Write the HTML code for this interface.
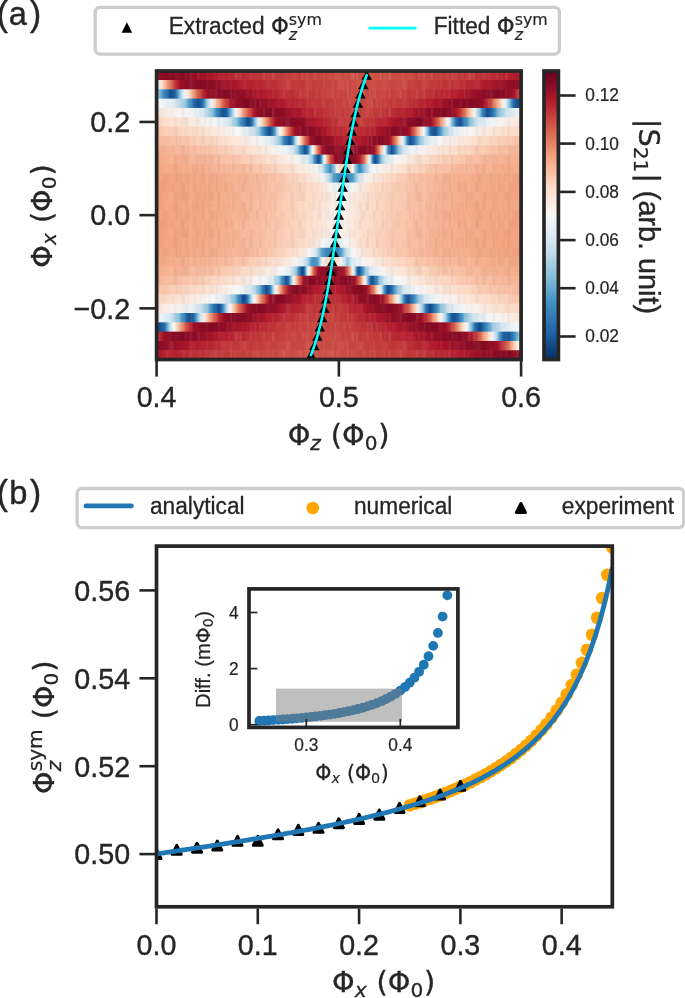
<!DOCTYPE html>
<html lang="en"><head><meta charset="utf-8"><title>Figure</title>
<style>
html,body{margin:0;padding:0;background:#fff;}
body{width:685px;height:998px;overflow:hidden;}
svg{display:block;font-family:"Liberation Sans", "DejaVu Sans", sans-serif;fill:#262626;}
text{white-space:pre;stroke:#262626;stroke-linejoin:round;}
</style></head><body>
<svg width="685" height="998" viewBox="0 0 685 998" role="img" aria-label="Figure with panels (a) and (b)">
<defs>
<clipPath id="ca"><rect x="156.6" y="71.0" width="364.5" height="288.5"/></clipPath>
<linearGradient id="r0" gradientUnits="userSpaceOnUse" x1="156.6" x2="521.1" y1="0" y2="0"><stop offset="0.0000" stop-color="#991027"/><stop offset="0.0165" stop-color="#8d0c25"/><stop offset="0.0384" stop-color="#840924"/><stop offset="0.0988" stop-color="#930e26"/><stop offset="0.1536" stop-color="#ae172a"/><stop offset="0.1893" stop-color="#b72230"/><stop offset="0.2963" stop-color="#c2383a"/><stop offset="0.3429" stop-color="#c43b3c"/><stop offset="0.3649" stop-color="#c53e3d"/><stop offset="0.4527" stop-color="#c94741"/><stop offset="0.5542" stop-color="#cf5246"/><stop offset="0.6200" stop-color="#cf5246"/><stop offset="0.6639" stop-color="#cc4c44"/><stop offset="0.7215" stop-color="#c94741"/><stop offset="0.7737" stop-color="#c6413e"/><stop offset="0.8669" stop-color="#c2383a"/><stop offset="0.9136" stop-color="#bd2d35"/><stop offset="0.9822" stop-color="#b41c2d"/><stop offset="0.9986" stop-color="#ae172a"/></linearGradient>
<linearGradient id="r1" gradientUnits="userSpaceOnUse" x1="156.6" x2="521.1" y1="0" y2="0"><stop offset="0.0000" stop-color="#d7e8f1"/><stop offset="0.0055" stop-color="#f5f6f7"/><stop offset="0.0137" stop-color="#fce2d2"/><stop offset="0.0165" stop-color="#fdd9c4"/><stop offset="0.0247" stop-color="#f6af8e"/><stop offset="0.0274" stop-color="#f3a481"/><stop offset="0.0384" stop-color="#da6853"/><stop offset="0.0439" stop-color="#ce4f45"/><stop offset="0.0604" stop-color="#b1182b"/><stop offset="0.0658" stop-color="#9c1127"/><stop offset="0.0823" stop-color="#900d26"/><stop offset="0.1097" stop-color="#840924"/><stop offset="0.1674" stop-color="#930e26"/><stop offset="0.2305" stop-color="#b3192c"/><stop offset="0.2579" stop-color="#b72230"/><stop offset="0.3484" stop-color="#c2383a"/><stop offset="0.4198" stop-color="#c53e3d"/><stop offset="0.4856" stop-color="#c94741"/><stop offset="0.5322" stop-color="#cc4c44"/><stop offset="0.5789" stop-color="#ce4f45"/><stop offset="0.6447" stop-color="#cb4942"/><stop offset="0.6667" stop-color="#c94741"/><stop offset="0.7106" stop-color="#c6413e"/><stop offset="0.7627" stop-color="#c43b3c"/><stop offset="0.8038" stop-color="#c13639"/><stop offset="0.8807" stop-color="#b72230"/><stop offset="0.9108" stop-color="#b1182b"/><stop offset="0.9438" stop-color="#9f1228"/><stop offset="0.9767" stop-color="#900d26"/><stop offset="0.9986" stop-color="#8a0b25"/></linearGradient>
<linearGradient id="r2" gradientUnits="userSpaceOnUse" x1="156.6" x2="521.1" y1="0" y2="0"><stop offset="0.0000" stop-color="#a2cde3"/><stop offset="0.0055" stop-color="#93c6de"/><stop offset="0.0165" stop-color="#4695c4"/><stop offset="0.0274" stop-color="#246aae"/><stop offset="0.0302" stop-color="#1f63a8"/><stop offset="0.0384" stop-color="#134c87"/><stop offset="0.0494" stop-color="#1f63a8"/><stop offset="0.0549" stop-color="#3783bb"/><stop offset="0.0576" stop-color="#4997c5"/><stop offset="0.0631" stop-color="#87beda"/><stop offset="0.0713" stop-color="#cfe4ef"/><stop offset="0.0796" stop-color="#f7f5f4"/><stop offset="0.0878" stop-color="#fcdfcf"/><stop offset="0.0933" stop-color="#f9c6ac"/><stop offset="0.0960" stop-color="#f7b799"/><stop offset="0.1043" stop-color="#ec9374"/><stop offset="0.1152" stop-color="#d35a4a"/><stop offset="0.1289" stop-color="#ba2832"/><stop offset="0.1317" stop-color="#b41c2d"/><stop offset="0.1344" stop-color="#ae172a"/><stop offset="0.1399" stop-color="#991027"/><stop offset="0.1783" stop-color="#840924"/><stop offset="0.2332" stop-color="#930e26"/><stop offset="0.2771" stop-color="#ab162a"/><stop offset="0.2990" stop-color="#b41c2d"/><stop offset="0.3265" stop-color="#b82531"/><stop offset="0.4005" stop-color="#c2383a"/><stop offset="0.5350" stop-color="#cb4942"/><stop offset="0.5679" stop-color="#cc4c44"/><stop offset="0.5898" stop-color="#cb4942"/><stop offset="0.6392" stop-color="#c84440"/><stop offset="0.6776" stop-color="#c53e3d"/><stop offset="0.7353" stop-color="#c13639"/><stop offset="0.8148" stop-color="#b61f2e"/><stop offset="0.8313" stop-color="#b1182b"/><stop offset="0.8861" stop-color="#930e26"/><stop offset="0.9438" stop-color="#840924"/><stop offset="0.9794" stop-color="#9c1127"/><stop offset="0.9849" stop-color="#b1182b"/><stop offset="0.9986" stop-color="#cc4c44"/></linearGradient>
<linearGradient id="r3" gradientUnits="userSpaceOnUse" x1="156.6" x2="521.1" y1="0" y2="0"><stop offset="0.0000" stop-color="#f7f6f6"/><stop offset="0.0192" stop-color="#f0f4f6"/><stop offset="0.0521" stop-color="#d7e8f1"/><stop offset="0.0631" stop-color="#c0dceb"/><stop offset="0.0796" stop-color="#93c6de"/><stop offset="0.0850" stop-color="#71b0d3"/><stop offset="0.0905" stop-color="#4997c5"/><stop offset="0.0988" stop-color="#2e77b5"/><stop offset="0.1043" stop-color="#2065ab"/><stop offset="0.1125" stop-color="#134c87"/><stop offset="0.1235" stop-color="#1f63a8"/><stop offset="0.1289" stop-color="#3885bc"/><stop offset="0.1317" stop-color="#4c99c6"/><stop offset="0.1372" stop-color="#90c4dd"/><stop offset="0.1427" stop-color="#c5dfec"/><stop offset="0.1481" stop-color="#e7f0f4"/><stop offset="0.1509" stop-color="#f6f7f7"/><stop offset="0.1591" stop-color="#fcdecd"/><stop offset="0.1619" stop-color="#fcd3bc"/><stop offset="0.1646" stop-color="#f9c2a7"/><stop offset="0.1728" stop-color="#ef9979"/><stop offset="0.1838" stop-color="#d55d4c"/><stop offset="0.2003" stop-color="#b41c2d"/><stop offset="0.2058" stop-color="#9f1228"/><stop offset="0.2112" stop-color="#960f27"/><stop offset="0.2277" stop-color="#8d0c25"/><stop offset="0.2442" stop-color="#840924"/><stop offset="0.2963" stop-color="#930e26"/><stop offset="0.3484" stop-color="#b3192c"/><stop offset="0.3704" stop-color="#b72230"/><stop offset="0.4390" stop-color="#c2383a"/><stop offset="0.5405" stop-color="#c94741"/><stop offset="0.5789" stop-color="#c94741"/><stop offset="0.6475" stop-color="#c43b3c"/><stop offset="0.6776" stop-color="#c13639"/><stop offset="0.7270" stop-color="#b82531"/><stop offset="0.7517" stop-color="#b41c2d"/><stop offset="0.7654" stop-color="#ae172a"/><stop offset="0.8176" stop-color="#900d26"/><stop offset="0.8615" stop-color="#840924"/><stop offset="0.8971" stop-color="#991027"/><stop offset="0.9026" stop-color="#b1182b"/><stop offset="0.9081" stop-color="#bb2a34"/><stop offset="0.9218" stop-color="#d7634f"/><stop offset="0.9328" stop-color="#f2a17f"/><stop offset="0.9383" stop-color="#f7b99c"/><stop offset="0.9438" stop-color="#fdd9c4"/><stop offset="0.9520" stop-color="#f8f3f0"/><stop offset="0.9547" stop-color="#f0f4f6"/><stop offset="0.9602" stop-color="#d1e5f0"/><stop offset="0.9657" stop-color="#a0cce2"/><stop offset="0.9739" stop-color="#408fc1"/><stop offset="0.9794" stop-color="#2369ad"/><stop offset="0.9877" stop-color="#175290"/><stop offset="0.9904" stop-color="#134c87"/><stop offset="0.9931" stop-color="#15508d"/><stop offset="0.9986" stop-color="#1e61a5"/></linearGradient>
<linearGradient id="r4" gradientUnits="userSpaceOnUse" x1="156.6" x2="521.1" y1="0" y2="0"><stop offset="0.0000" stop-color="#fbe5d8"/><stop offset="0.0823" stop-color="#f6f7f7"/><stop offset="0.1097" stop-color="#e6eff4"/><stop offset="0.1262" stop-color="#d8e9f1"/><stop offset="0.1509" stop-color="#96c7df"/><stop offset="0.1536" stop-color="#87beda"/><stop offset="0.1619" stop-color="#4997c5"/><stop offset="0.1674" stop-color="#337eb8"/><stop offset="0.1728" stop-color="#246aae"/><stop offset="0.1783" stop-color="#1a5899"/><stop offset="0.1811" stop-color="#144e8a"/><stop offset="0.1838" stop-color="#144e8a"/><stop offset="0.1920" stop-color="#1f63a8"/><stop offset="0.1948" stop-color="#2870b1"/><stop offset="0.2003" stop-color="#4c99c6"/><stop offset="0.2058" stop-color="#93c6de"/><stop offset="0.2112" stop-color="#c7e0ed"/><stop offset="0.2140" stop-color="#dbeaf2"/><stop offset="0.2195" stop-color="#f7f5f4"/><stop offset="0.2277" stop-color="#fddbc7"/><stop offset="0.2332" stop-color="#f8bb9e"/><stop offset="0.2387" stop-color="#f2a17f"/><stop offset="0.2497" stop-color="#d6604d"/><stop offset="0.2661" stop-color="#b3192c"/><stop offset="0.2716" stop-color="#991027"/><stop offset="0.3045" stop-color="#840924"/><stop offset="0.3512" stop-color="#930e26"/><stop offset="0.3978" stop-color="#b3192c"/><stop offset="0.4060" stop-color="#b61f2e"/><stop offset="0.4444" stop-color="#bd2d35"/><stop offset="0.4746" stop-color="#c2383a"/><stop offset="0.5350" stop-color="#c6413e"/><stop offset="0.5734" stop-color="#c6413e"/><stop offset="0.6310" stop-color="#c13639"/><stop offset="0.6694" stop-color="#b82531"/><stop offset="0.6914" stop-color="#b41c2d"/><stop offset="0.7270" stop-color="#9c1127"/><stop offset="0.7490" stop-color="#900d26"/><stop offset="0.7901" stop-color="#840924"/><stop offset="0.8203" stop-color="#991027"/><stop offset="0.8258" stop-color="#b3192c"/><stop offset="0.8422" stop-color="#d6604d"/><stop offset="0.8532" stop-color="#f2a17f"/><stop offset="0.8587" stop-color="#f8bb9e"/><stop offset="0.8642" stop-color="#fddbc7"/><stop offset="0.8724" stop-color="#f7f5f4"/><stop offset="0.8779" stop-color="#dbeaf2"/><stop offset="0.8834" stop-color="#aed3e6"/><stop offset="0.8861" stop-color="#93c6de"/><stop offset="0.8916" stop-color="#4c99c6"/><stop offset="0.8971" stop-color="#2870b1"/><stop offset="0.9026" stop-color="#1b5a9c"/><stop offset="0.9081" stop-color="#144e8a"/><stop offset="0.9108" stop-color="#144e8a"/><stop offset="0.9163" stop-color="#1e61a5"/><stop offset="0.9246" stop-color="#337eb8"/><stop offset="0.9300" stop-color="#4997c5"/><stop offset="0.9383" stop-color="#87beda"/><stop offset="0.9410" stop-color="#96c7df"/><stop offset="0.9657" stop-color="#d8e9f1"/><stop offset="0.9986" stop-color="#f2f5f6"/></linearGradient>
<linearGradient id="r5" gradientUnits="userSpaceOnUse" x1="156.6" x2="521.1" y1="0" y2="0"><stop offset="0.0000" stop-color="#fcd7c2"/><stop offset="0.0549" stop-color="#fce2d2"/><stop offset="0.1070" stop-color="#f9ebe3"/><stop offset="0.1536" stop-color="#f6f7f7"/><stop offset="0.1811" stop-color="#e4eef4"/><stop offset="0.1975" stop-color="#d4e6f1"/><stop offset="0.2085" stop-color="#b6d7e8"/><stop offset="0.2195" stop-color="#96c7df"/><stop offset="0.2250" stop-color="#6eaed2"/><stop offset="0.2305" stop-color="#4393c3"/><stop offset="0.2387" stop-color="#276eb0"/><stop offset="0.2414" stop-color="#2267ac"/><stop offset="0.2497" stop-color="#124984"/><stop offset="0.2579" stop-color="#1e61a5"/><stop offset="0.2606" stop-color="#2a71b2"/><stop offset="0.2634" stop-color="#3b88be"/><stop offset="0.2661" stop-color="#59a1ca"/><stop offset="0.2689" stop-color="#81bad8"/><stop offset="0.2743" stop-color="#c0dceb"/><stop offset="0.2771" stop-color="#d8e9f1"/><stop offset="0.2798" stop-color="#eaf1f5"/><stop offset="0.2826" stop-color="#f8f4f2"/><stop offset="0.2908" stop-color="#fcd5bf"/><stop offset="0.2936" stop-color="#f9c2a7"/><stop offset="0.2990" stop-color="#f3a481"/><stop offset="0.3073" stop-color="#db6b55"/><stop offset="0.3100" stop-color="#d35a4a"/><stop offset="0.3237" stop-color="#b3192c"/><stop offset="0.3292" stop-color="#991027"/><stop offset="0.3594" stop-color="#840924"/><stop offset="0.3786" stop-color="#8a0b25"/><stop offset="0.3978" stop-color="#930e26"/><stop offset="0.4307" stop-color="#ae172a"/><stop offset="0.4444" stop-color="#b61f2e"/><stop offset="0.5021" stop-color="#c2383a"/><stop offset="0.5652" stop-color="#c43b3c"/><stop offset="0.5898" stop-color="#c13639"/><stop offset="0.6228" stop-color="#b82531"/><stop offset="0.6475" stop-color="#b1182b"/><stop offset="0.6694" stop-color="#9c1127"/><stop offset="0.6886" stop-color="#900d26"/><stop offset="0.7215" stop-color="#840924"/><stop offset="0.7462" stop-color="#960f27"/><stop offset="0.7517" stop-color="#991027"/><stop offset="0.7572" stop-color="#b41c2d"/><stop offset="0.7709" stop-color="#d55d4c"/><stop offset="0.7819" stop-color="#f3a481"/><stop offset="0.7901" stop-color="#fcd5bf"/><stop offset="0.7984" stop-color="#f7f5f4"/><stop offset="0.8038" stop-color="#d7e8f1"/><stop offset="0.8093" stop-color="#a0cce2"/><stop offset="0.8121" stop-color="#7eb8d7"/><stop offset="0.8148" stop-color="#569fc9"/><stop offset="0.8176" stop-color="#3a87bd"/><stop offset="0.8203" stop-color="#2870b1"/><stop offset="0.8230" stop-color="#1e61a5"/><stop offset="0.8313" stop-color="#124984"/><stop offset="0.8395" stop-color="#2267ac"/><stop offset="0.8505" stop-color="#4393c3"/><stop offset="0.8587" stop-color="#84bcd9"/><stop offset="0.8615" stop-color="#96c7df"/><stop offset="0.8807" stop-color="#cfe4ef"/><stop offset="0.8889" stop-color="#dbeaf2"/><stop offset="0.9218" stop-color="#f5f6f7"/><stop offset="0.9410" stop-color="#f8f4f2"/><stop offset="0.9986" stop-color="#fbe6da"/></linearGradient>
<linearGradient id="r6" gradientUnits="userSpaceOnUse" x1="156.6" x2="521.1" y1="0" y2="0"><stop offset="0.0000" stop-color="#f9c6ac"/><stop offset="0.1235" stop-color="#fce0d0"/><stop offset="0.1728" stop-color="#faeae1"/><stop offset="0.2222" stop-color="#f6f7f7"/><stop offset="0.2414" stop-color="#eaf1f5"/><stop offset="0.2606" stop-color="#d8e9f1"/><stop offset="0.2716" stop-color="#b8d8e9"/><stop offset="0.2826" stop-color="#93c6de"/><stop offset="0.2908" stop-color="#4c99c6"/><stop offset="0.2963" stop-color="#337eb8"/><stop offset="0.2990" stop-color="#2870b1"/><stop offset="0.3018" stop-color="#2267ac"/><stop offset="0.3073" stop-color="#15508d"/><stop offset="0.3100" stop-color="#144e8a"/><stop offset="0.3182" stop-color="#2369ad"/><stop offset="0.3210" stop-color="#3783bb"/><stop offset="0.3237" stop-color="#529dc8"/><stop offset="0.3265" stop-color="#7eb8d7"/><stop offset="0.3292" stop-color="#a5cee3"/><stop offset="0.3320" stop-color="#c5dfec"/><stop offset="0.3374" stop-color="#f0f4f6"/><stop offset="0.3402" stop-color="#f9f0eb"/><stop offset="0.3457" stop-color="#fddbc7"/><stop offset="0.3512" stop-color="#f7b596"/><stop offset="0.3539" stop-color="#f4a683"/><stop offset="0.3621" stop-color="#da6853"/><stop offset="0.3649" stop-color="#d25849"/><stop offset="0.3676" stop-color="#cc4c44"/><stop offset="0.3759" stop-color="#b41c2d"/><stop offset="0.3813" stop-color="#991027"/><stop offset="0.4060" stop-color="#840924"/><stop offset="0.4417" stop-color="#960f27"/><stop offset="0.4719" stop-color="#b41c2d"/><stop offset="0.4938" stop-color="#ba2832"/><stop offset="0.5185" stop-color="#be3036"/><stop offset="0.5460" stop-color="#bf3338"/><stop offset="0.5789" stop-color="#ba2832"/><stop offset="0.6036" stop-color="#b1182b"/><stop offset="0.6255" stop-color="#991027"/><stop offset="0.6557" stop-color="#870a24"/><stop offset="0.6667" stop-color="#840924"/><stop offset="0.6886" stop-color="#991027"/><stop offset="0.6914" stop-color="#a21328"/><stop offset="0.6941" stop-color="#b1182b"/><stop offset="0.7078" stop-color="#d86551"/><stop offset="0.7160" stop-color="#f2a17f"/><stop offset="0.7188" stop-color="#f6b191"/><stop offset="0.7243" stop-color="#fcd7c2"/><stop offset="0.7298" stop-color="#f9eee7"/><stop offset="0.7325" stop-color="#f5f6f7"/><stop offset="0.7380" stop-color="#cae1ee"/><stop offset="0.7435" stop-color="#87beda"/><stop offset="0.7462" stop-color="#5ca3cb"/><stop offset="0.7490" stop-color="#3b88be"/><stop offset="0.7517" stop-color="#2870b1"/><stop offset="0.7545" stop-color="#1e61a5"/><stop offset="0.7599" stop-color="#15508d"/><stop offset="0.7627" stop-color="#144e8a"/><stop offset="0.7682" stop-color="#1f63a8"/><stop offset="0.7764" stop-color="#3b88be"/><stop offset="0.7791" stop-color="#4997c5"/><stop offset="0.7874" stop-color="#90c4dd"/><stop offset="0.8066" stop-color="#d1e5f0"/><stop offset="0.8176" stop-color="#e0ecf3"/><stop offset="0.8477" stop-color="#f6f7f7"/><stop offset="0.9218" stop-color="#fbe5d8"/><stop offset="0.9986" stop-color="#fcd7c2"/></linearGradient>
<linearGradient id="r7" gradientUnits="userSpaceOnUse" x1="156.6" x2="521.1" y1="0" y2="0"><stop offset="0.0000" stop-color="#f7b99c"/><stop offset="0.0905" stop-color="#fac8af"/><stop offset="0.1481" stop-color="#fcd7c2"/><stop offset="0.2414" stop-color="#faeae1"/><stop offset="0.2853" stop-color="#f6f7f7"/><stop offset="0.3100" stop-color="#e1edf3"/><stop offset="0.3182" stop-color="#dae9f2"/><stop offset="0.3265" stop-color="#c2ddec"/><stop offset="0.3374" stop-color="#9bc9e0"/><stop offset="0.3402" stop-color="#8dc2dc"/><stop offset="0.3457" stop-color="#569fc9"/><stop offset="0.3484" stop-color="#408fc1"/><stop offset="0.3539" stop-color="#2a71b2"/><stop offset="0.3567" stop-color="#2267ac"/><stop offset="0.3621" stop-color="#144e8a"/><stop offset="0.3649" stop-color="#15508d"/><stop offset="0.3704" stop-color="#2065ab"/><stop offset="0.3731" stop-color="#3681ba"/><stop offset="0.3759" stop-color="#59a1ca"/><stop offset="0.3786" stop-color="#8ac0db"/><stop offset="0.3813" stop-color="#b3d6e8"/><stop offset="0.3841" stop-color="#d7e8f1"/><stop offset="0.3868" stop-color="#edf2f5"/><stop offset="0.3896" stop-color="#f9f0eb"/><stop offset="0.3951" stop-color="#fcd3bc"/><stop offset="0.3978" stop-color="#f7b99c"/><stop offset="0.4005" stop-color="#f5a886"/><stop offset="0.4088" stop-color="#d6604d"/><stop offset="0.4198" stop-color="#b1182b"/><stop offset="0.4225" stop-color="#9c1127"/><stop offset="0.4390" stop-color="#870a24"/><stop offset="0.4444" stop-color="#840924"/><stop offset="0.4719" stop-color="#960f27"/><stop offset="0.4938" stop-color="#ae172a"/><stop offset="0.5130" stop-color="#b61f2e"/><stop offset="0.5405" stop-color="#b72230"/><stop offset="0.5569" stop-color="#b41c2d"/><stop offset="0.5871" stop-color="#991027"/><stop offset="0.6036" stop-color="#8a0b25"/><stop offset="0.6200" stop-color="#840924"/><stop offset="0.6365" stop-color="#991027"/><stop offset="0.6392" stop-color="#9f1228"/><stop offset="0.6420" stop-color="#b3192c"/><stop offset="0.6529" stop-color="#d86551"/><stop offset="0.6612" stop-color="#f5ac8b"/><stop offset="0.6639" stop-color="#f8bfa4"/><stop offset="0.6667" stop-color="#fcd7c2"/><stop offset="0.6722" stop-color="#f8f2ef"/><stop offset="0.6749" stop-color="#e9f0f4"/><stop offset="0.6776" stop-color="#d1e5f0"/><stop offset="0.6804" stop-color="#acd2e5"/><stop offset="0.6831" stop-color="#81bad8"/><stop offset="0.6859" stop-color="#4c99c6"/><stop offset="0.6886" stop-color="#307ab6"/><stop offset="0.6914" stop-color="#1f63a8"/><stop offset="0.6968" stop-color="#144e8a"/><stop offset="0.6996" stop-color="#175290"/><stop offset="0.7051" stop-color="#2369ad"/><stop offset="0.7133" stop-color="#4393c3"/><stop offset="0.7215" stop-color="#90c4dd"/><stop offset="0.7380" stop-color="#cfe4ef"/><stop offset="0.7462" stop-color="#ddebf2"/><stop offset="0.7737" stop-color="#f5f6f7"/><stop offset="0.7874" stop-color="#f8f4f2"/><stop offset="0.8422" stop-color="#fbe5d8"/><stop offset="0.9081" stop-color="#fdd9c4"/><stop offset="0.9849" stop-color="#f9c6ac"/><stop offset="0.9986" stop-color="#f9c4a9"/></linearGradient>
<linearGradient id="r8" gradientUnits="userSpaceOnUse" x1="156.6" x2="521.1" y1="0" y2="0"><stop offset="0.0000" stop-color="#f6b191"/><stop offset="0.0850" stop-color="#f7b99c"/><stop offset="0.1619" stop-color="#fac8af"/><stop offset="0.2524" stop-color="#fcdfcf"/><stop offset="0.2963" stop-color="#fae9df"/><stop offset="0.3402" stop-color="#f6f7f7"/><stop offset="0.3594" stop-color="#e7f0f4"/><stop offset="0.3731" stop-color="#d4e6f1"/><stop offset="0.3868" stop-color="#98c8e0"/><stop offset="0.3896" stop-color="#84bcd9"/><stop offset="0.3951" stop-color="#4695c4"/><stop offset="0.4005" stop-color="#2870b1"/><stop offset="0.4033" stop-color="#1f63a8"/><stop offset="0.4060" stop-color="#195696"/><stop offset="0.4088" stop-color="#144e8a"/><stop offset="0.4143" stop-color="#2267ac"/><stop offset="0.4170" stop-color="#3e8cbf"/><stop offset="0.4198" stop-color="#78b4d5"/><stop offset="0.4225" stop-color="#aed3e6"/><stop offset="0.4252" stop-color="#d8e9f1"/><stop offset="0.4280" stop-color="#f6f7f7"/><stop offset="0.4335" stop-color="#fcd7c2"/><stop offset="0.4362" stop-color="#f7b99c"/><stop offset="0.4390" stop-color="#f2a17f"/><stop offset="0.4444" stop-color="#d86551"/><stop offset="0.4527" stop-color="#b72230"/><stop offset="0.4554" stop-color="#a51429"/><stop offset="0.4582" stop-color="#991027"/><stop offset="0.4746" stop-color="#840924"/><stop offset="0.5021" stop-color="#930e26"/><stop offset="0.5185" stop-color="#991027"/><stop offset="0.5295" stop-color="#9c1127"/><stop offset="0.5789" stop-color="#840924"/><stop offset="0.5953" stop-color="#991027"/><stop offset="0.5981" stop-color="#ae172a"/><stop offset="0.6008" stop-color="#bb2a34"/><stop offset="0.6036" stop-color="#c84440"/><stop offset="0.6063" stop-color="#d25849"/><stop offset="0.6118" stop-color="#eb9172"/><stop offset="0.6145" stop-color="#f5ac8b"/><stop offset="0.6200" stop-color="#fcdfcf"/><stop offset="0.6228" stop-color="#f9efe9"/><stop offset="0.6255" stop-color="#eaf1f5"/><stop offset="0.6283" stop-color="#cae1ee"/><stop offset="0.6310" stop-color="#9bc9e0"/><stop offset="0.6337" stop-color="#5ca3cb"/><stop offset="0.6365" stop-color="#327cb7"/><stop offset="0.6392" stop-color="#1e61a5"/><stop offset="0.6420" stop-color="#185493"/><stop offset="0.6447" stop-color="#144e8a"/><stop offset="0.6502" stop-color="#2369ad"/><stop offset="0.6529" stop-color="#2e77b5"/><stop offset="0.6557" stop-color="#3c8abe"/><stop offset="0.6584" stop-color="#529dc8"/><stop offset="0.6639" stop-color="#90c4dd"/><stop offset="0.6776" stop-color="#cfe4ef"/><stop offset="0.6831" stop-color="#dbeaf2"/><stop offset="0.7106" stop-color="#f6f7f7"/><stop offset="0.7764" stop-color="#fbe4d6"/><stop offset="0.8395" stop-color="#fcd7c2"/><stop offset="0.9136" stop-color="#f9c4a9"/><stop offset="0.9877" stop-color="#f7b799"/><stop offset="0.9986" stop-color="#f7b596"/></linearGradient>
<linearGradient id="r9" gradientUnits="userSpaceOnUse" x1="156.6" x2="521.1" y1="0" y2="0"><stop offset="0.0000" stop-color="#f5aa89"/><stop offset="0.1070" stop-color="#f6b394"/><stop offset="0.1564" stop-color="#f7b99c"/><stop offset="0.2305" stop-color="#fac8af"/><stop offset="0.3100" stop-color="#fcdfcf"/><stop offset="0.3567" stop-color="#faeae1"/><stop offset="0.3896" stop-color="#f6f7f7"/><stop offset="0.4060" stop-color="#e4eef4"/><stop offset="0.4143" stop-color="#d7e8f1"/><stop offset="0.4198" stop-color="#bddbea"/><stop offset="0.4280" stop-color="#90c4dd"/><stop offset="0.4335" stop-color="#4393c3"/><stop offset="0.4390" stop-color="#2369ad"/><stop offset="0.4417" stop-color="#1a5899"/><stop offset="0.4444" stop-color="#144e8a"/><stop offset="0.4472" stop-color="#1c5c9f"/><stop offset="0.4499" stop-color="#2c75b4"/><stop offset="0.4527" stop-color="#59a1ca"/><stop offset="0.4554" stop-color="#a0cce2"/><stop offset="0.4582" stop-color="#d4e6f1"/><stop offset="0.4609" stop-color="#f6f7f7"/><stop offset="0.4636" stop-color="#fbe6da"/><stop offset="0.4664" stop-color="#fbccb4"/><stop offset="0.4691" stop-color="#f5ac8b"/><stop offset="0.4746" stop-color="#db6b55"/><stop offset="0.4774" stop-color="#ce4f45"/><stop offset="0.4856" stop-color="#ae172a"/><stop offset="0.4883" stop-color="#991027"/><stop offset="0.5048" stop-color="#8a0b25"/><stop offset="0.5267" stop-color="#840924"/><stop offset="0.5432" stop-color="#8d0c25"/><stop offset="0.5542" stop-color="#991027"/><stop offset="0.5569" stop-color="#a21328"/><stop offset="0.5597" stop-color="#b41c2d"/><stop offset="0.5679" stop-color="#d35a4a"/><stop offset="0.5734" stop-color="#f09c7b"/><stop offset="0.5761" stop-color="#f7b99c"/><stop offset="0.5789" stop-color="#fddcc9"/><stop offset="0.5816" stop-color="#f9eee7"/><stop offset="0.5844" stop-color="#e7f0f4"/><stop offset="0.5871" stop-color="#bddbea"/><stop offset="0.5898" stop-color="#84bcd9"/><stop offset="0.5926" stop-color="#3e8cbf"/><stop offset="0.5953" stop-color="#1f63a8"/><stop offset="0.5981" stop-color="#195696"/><stop offset="0.6008" stop-color="#144e8a"/><stop offset="0.6036" stop-color="#1d5fa2"/><stop offset="0.6063" stop-color="#2870b1"/><stop offset="0.6091" stop-color="#3a87bd"/><stop offset="0.6118" stop-color="#529dc8"/><stop offset="0.6145" stop-color="#7bb6d6"/><stop offset="0.6173" stop-color="#98c8e0"/><stop offset="0.6283" stop-color="#d2e6f0"/><stop offset="0.6365" stop-color="#e1edf3"/><stop offset="0.6529" stop-color="#f5f6f7"/><stop offset="0.6749" stop-color="#f9f0eb"/><stop offset="0.7051" stop-color="#fbe5d8"/><stop offset="0.7819" stop-color="#fcd3bc"/><stop offset="0.8368" stop-color="#f9c4a9"/><stop offset="0.9081" stop-color="#f7b799"/><stop offset="0.9959" stop-color="#f6af8e"/><stop offset="0.9986" stop-color="#f6af8e"/></linearGradient>
<linearGradient id="r10" gradientUnits="userSpaceOnUse" x1="156.6" x2="521.1" y1="0" y2="0"><stop offset="0.0000" stop-color="#f4a683"/><stop offset="0.1097" stop-color="#f5ac8b"/><stop offset="0.2250" stop-color="#f7b99c"/><stop offset="0.2826" stop-color="#f9c6ac"/><stop offset="0.3813" stop-color="#fbe4d6"/><stop offset="0.4225" stop-color="#f8f1ed"/><stop offset="0.4362" stop-color="#f8f4f2"/><stop offset="0.4390" stop-color="#f6f7f7"/><stop offset="0.4527" stop-color="#d7e8f1"/><stop offset="0.4636" stop-color="#87beda"/><stop offset="0.4664" stop-color="#6eaed2"/><stop offset="0.4746" stop-color="#4291c2"/><stop offset="0.4774" stop-color="#3e8cbf"/><stop offset="0.4829" stop-color="#65a9cf"/><stop offset="0.4883" stop-color="#98c8e0"/><stop offset="0.4911" stop-color="#c5dfec"/><stop offset="0.4938" stop-color="#e4eef4"/><stop offset="0.4966" stop-color="#f8f1ed"/><stop offset="0.4993" stop-color="#fce0d0"/><stop offset="0.5130" stop-color="#fbceb7"/><stop offset="0.5158" stop-color="#fac8af"/><stop offset="0.5185" stop-color="#f9c6ac"/><stop offset="0.5350" stop-color="#fbe4d6"/><stop offset="0.5377" stop-color="#f6f7f7"/><stop offset="0.5405" stop-color="#dbeaf2"/><stop offset="0.5460" stop-color="#8dc2dc"/><stop offset="0.5542" stop-color="#4695c4"/><stop offset="0.5569" stop-color="#3c8abe"/><stop offset="0.5597" stop-color="#4695c4"/><stop offset="0.5679" stop-color="#75b2d4"/><stop offset="0.5706" stop-color="#90c4dd"/><stop offset="0.5789" stop-color="#cce2ef"/><stop offset="0.5816" stop-color="#dae9f2"/><stop offset="0.5953" stop-color="#f5f6f7"/><stop offset="0.6091" stop-color="#f8f1ed"/><stop offset="0.6392" stop-color="#fae9df"/><stop offset="0.6667" stop-color="#fce0d0"/><stop offset="0.7627" stop-color="#f9c4a9"/><stop offset="0.8340" stop-color="#f7b799"/><stop offset="0.9136" stop-color="#f6af8e"/><stop offset="0.9986" stop-color="#f5a886"/></linearGradient>
<linearGradient id="r11" gradientUnits="userSpaceOnUse" x1="156.6" x2="521.1" y1="0" y2="0"><stop offset="0.0000" stop-color="#f2a17f"/><stop offset="0.0357" stop-color="#f2a17f"/><stop offset="0.1180" stop-color="#f5a886"/><stop offset="0.2277" stop-color="#f6b191"/><stop offset="0.3045" stop-color="#f8bda1"/><stop offset="0.3512" stop-color="#facab1"/><stop offset="0.4252" stop-color="#fbe5d8"/><stop offset="0.4390" stop-color="#f9ebe3"/><stop offset="0.4527" stop-color="#f7f6f6"/><stop offset="0.4691" stop-color="#d2e6f0"/><stop offset="0.4719" stop-color="#cae1ee"/><stop offset="0.4801" stop-color="#90c4dd"/><stop offset="0.4856" stop-color="#5fa5cd"/><stop offset="0.4883" stop-color="#4c99c6"/><stop offset="0.4966" stop-color="#3e8cbf"/><stop offset="0.5021" stop-color="#3885bc"/><stop offset="0.5267" stop-color="#3885bc"/><stop offset="0.5350" stop-color="#4393c3"/><stop offset="0.5377" stop-color="#4c99c6"/><stop offset="0.5405" stop-color="#5fa5cd"/><stop offset="0.5460" stop-color="#93c6de"/><stop offset="0.5514" stop-color="#bbdaea"/><stop offset="0.5569" stop-color="#d4e6f1"/><stop offset="0.5706" stop-color="#f5f6f7"/><stop offset="0.6008" stop-color="#fbe6da"/><stop offset="0.6749" stop-color="#fbccb4"/><stop offset="0.6996" stop-color="#f9c4a9"/><stop offset="0.7627" stop-color="#f7b799"/><stop offset="0.8340" stop-color="#f6af8e"/><stop offset="0.9904" stop-color="#f3a481"/><stop offset="0.9986" stop-color="#f2a17f"/></linearGradient>
<linearGradient id="r12" gradientUnits="userSpaceOnUse" x1="156.6" x2="521.1" y1="0" y2="0"><stop offset="0.0000" stop-color="#f2a17f"/><stop offset="0.0357" stop-color="#f2a17f"/><stop offset="0.0713" stop-color="#f3a481"/><stop offset="0.1893" stop-color="#f5aa89"/><stop offset="0.2689" stop-color="#f7b799"/><stop offset="0.3429" stop-color="#f9c6ac"/><stop offset="0.4417" stop-color="#fcdfcf"/><stop offset="0.4664" stop-color="#f9ede5"/><stop offset="0.4801" stop-color="#f7f6f6"/><stop offset="0.4966" stop-color="#e3edf3"/><stop offset="0.5130" stop-color="#ddebf2"/><stop offset="0.5295" stop-color="#e7f0f4"/><stop offset="0.5405" stop-color="#f6f7f7"/><stop offset="0.5679" stop-color="#fbe5d8"/><stop offset="0.5898" stop-color="#fddcc9"/><stop offset="0.6091" stop-color="#fdd9c4"/><stop offset="0.6557" stop-color="#fbccb4"/><stop offset="0.7215" stop-color="#f8bda1"/><stop offset="0.7956" stop-color="#f6b191"/><stop offset="0.8450" stop-color="#f5aa89"/><stop offset="0.9822" stop-color="#f3a481"/><stop offset="0.9986" stop-color="#f2a17f"/></linearGradient>
<linearGradient id="r13" gradientUnits="userSpaceOnUse" x1="156.6" x2="521.1" y1="0" y2="0"><stop offset="0.0000" stop-color="#f2a17f"/><stop offset="0.1180" stop-color="#f4a683"/><stop offset="0.1536" stop-color="#f5a886"/><stop offset="0.2003" stop-color="#f5ac8b"/><stop offset="0.3210" stop-color="#f9c2a7"/><stop offset="0.3896" stop-color="#fcd3bc"/><stop offset="0.4307" stop-color="#fdddcb"/><stop offset="0.4691" stop-color="#fae7dc"/><stop offset="0.5075" stop-color="#f7f6f6"/><stop offset="0.5542" stop-color="#fbe4d6"/><stop offset="0.6612" stop-color="#facab1"/><stop offset="0.7078" stop-color="#f8bfa4"/><stop offset="0.7929" stop-color="#f6b191"/><stop offset="0.8422" stop-color="#f5aa89"/><stop offset="0.9794" stop-color="#f3a481"/><stop offset="0.9986" stop-color="#f2a17f"/></linearGradient>
<linearGradient id="r14" gradientUnits="userSpaceOnUse" x1="156.6" x2="521.1" y1="0" y2="0"><stop offset="0.0000" stop-color="#f2a17f"/><stop offset="0.1152" stop-color="#f4a683"/><stop offset="0.1509" stop-color="#f5a886"/><stop offset="0.1975" stop-color="#f5ac8b"/><stop offset="0.3182" stop-color="#f9c2a7"/><stop offset="0.3868" stop-color="#fcd3bc"/><stop offset="0.4280" stop-color="#fdddcb"/><stop offset="0.4719" stop-color="#fae9df"/><stop offset="0.5048" stop-color="#f7f6f6"/><stop offset="0.5542" stop-color="#fbe3d4"/><stop offset="0.6228" stop-color="#fcd3bc"/><stop offset="0.7051" stop-color="#f8bfa4"/><stop offset="0.7874" stop-color="#f6b191"/><stop offset="0.8368" stop-color="#f5aa89"/><stop offset="0.9767" stop-color="#f3a481"/><stop offset="0.9986" stop-color="#f2a17f"/></linearGradient>
<linearGradient id="r15" gradientUnits="userSpaceOnUse" x1="156.6" x2="521.1" y1="0" y2="0"><stop offset="0.0000" stop-color="#f2a17f"/><stop offset="0.1125" stop-color="#f4a683"/><stop offset="0.1481" stop-color="#f5a886"/><stop offset="0.2085" stop-color="#f6af8e"/><stop offset="0.3237" stop-color="#f9c4a9"/><stop offset="0.4252" stop-color="#fdddcb"/><stop offset="0.4691" stop-color="#fae9df"/><stop offset="0.5021" stop-color="#f7f6f6"/><stop offset="0.5542" stop-color="#fce2d2"/><stop offset="0.6145" stop-color="#fcd5bf"/><stop offset="0.6365" stop-color="#fbceb7"/><stop offset="0.7106" stop-color="#f8bda1"/><stop offset="0.7846" stop-color="#f6b191"/><stop offset="0.8340" stop-color="#f5aa89"/><stop offset="0.9712" stop-color="#f3a481"/><stop offset="0.9986" stop-color="#f2a17f"/></linearGradient>
<linearGradient id="r16" gradientUnits="userSpaceOnUse" x1="156.6" x2="521.1" y1="0" y2="0"><stop offset="0.0000" stop-color="#f2a17f"/><stop offset="0.1070" stop-color="#f4a683"/><stop offset="0.1427" stop-color="#f5a886"/><stop offset="0.2058" stop-color="#f6af8e"/><stop offset="0.3100" stop-color="#f9c2a7"/><stop offset="0.3868" stop-color="#fcd5bf"/><stop offset="0.4143" stop-color="#fddcc9"/><stop offset="0.4554" stop-color="#fbe6da"/><stop offset="0.4966" stop-color="#f7f6f6"/><stop offset="0.5514" stop-color="#fce2d2"/><stop offset="0.6091" stop-color="#fcd5bf"/><stop offset="0.6968" stop-color="#f8bfa4"/><stop offset="0.7819" stop-color="#f6b191"/><stop offset="0.8313" stop-color="#f5aa89"/><stop offset="0.9684" stop-color="#f3a481"/><stop offset="0.9986" stop-color="#f2a17f"/></linearGradient>
<linearGradient id="r17" gradientUnits="userSpaceOnUse" x1="156.6" x2="521.1" y1="0" y2="0"><stop offset="0.0000" stop-color="#f2a17f"/><stop offset="0.1043" stop-color="#f4a683"/><stop offset="0.1399" stop-color="#f5a886"/><stop offset="0.1866" stop-color="#f5ac8b"/><stop offset="0.3073" stop-color="#f9c2a7"/><stop offset="0.3759" stop-color="#fcd3bc"/><stop offset="0.4170" stop-color="#fdddcb"/><stop offset="0.4609" stop-color="#fae9df"/><stop offset="0.4938" stop-color="#f7f6f6"/><stop offset="0.5432" stop-color="#fbe3d4"/><stop offset="0.6228" stop-color="#fbd0b9"/><stop offset="0.6941" stop-color="#f8bfa4"/><stop offset="0.7901" stop-color="#f6af8e"/><stop offset="0.8340" stop-color="#f5aa89"/><stop offset="0.9191" stop-color="#f4a683"/><stop offset="0.9986" stop-color="#f2a17f"/></linearGradient>
<linearGradient id="r18" gradientUnits="userSpaceOnUse" x1="156.6" x2="521.1" y1="0" y2="0"><stop offset="0.0000" stop-color="#f2a17f"/><stop offset="0.1015" stop-color="#f4a683"/><stop offset="0.1372" stop-color="#f5a886"/><stop offset="0.2140" stop-color="#f6b191"/><stop offset="0.3210" stop-color="#f9c6ac"/><stop offset="0.4198" stop-color="#fcdfcf"/><stop offset="0.4417" stop-color="#faeae1"/><stop offset="0.4582" stop-color="#f7f6f6"/><stop offset="0.4774" stop-color="#e1edf3"/><stop offset="0.4938" stop-color="#deebf2"/><stop offset="0.5075" stop-color="#e6eff4"/><stop offset="0.5185" stop-color="#f6f7f7"/><stop offset="0.5514" stop-color="#fbe3d4"/><stop offset="0.5761" stop-color="#fddbc7"/><stop offset="0.6255" stop-color="#fbceb7"/><stop offset="0.6914" stop-color="#f8bfa4"/><stop offset="0.7737" stop-color="#f6b191"/><stop offset="0.8230" stop-color="#f5aa89"/><stop offset="0.9602" stop-color="#f3a481"/><stop offset="0.9959" stop-color="#f2a17f"/><stop offset="0.9986" stop-color="#f2a17f"/></linearGradient>
<linearGradient id="r19" gradientUnits="userSpaceOnUse" x1="156.6" x2="521.1" y1="0" y2="0"><stop offset="0.0000" stop-color="#f2a17f"/><stop offset="0.1975" stop-color="#f6b191"/><stop offset="0.2661" stop-color="#f8bb9e"/><stop offset="0.3100" stop-color="#f9c6ac"/><stop offset="0.3594" stop-color="#fdd9c4"/><stop offset="0.4033" stop-color="#fae8de"/><stop offset="0.4225" stop-color="#f5f6f7"/><stop offset="0.4362" stop-color="#d4e6f1"/><stop offset="0.4417" stop-color="#bbdaea"/><stop offset="0.4472" stop-color="#93c6de"/><stop offset="0.4527" stop-color="#5fa5cd"/><stop offset="0.4554" stop-color="#4f9bc7"/><stop offset="0.4609" stop-color="#4291c2"/><stop offset="0.4691" stop-color="#3885bc"/><stop offset="0.4966" stop-color="#3a87bd"/><stop offset="0.5021" stop-color="#4393c3"/><stop offset="0.5048" stop-color="#4c99c6"/><stop offset="0.5075" stop-color="#5fa5cd"/><stop offset="0.5130" stop-color="#90c4dd"/><stop offset="0.5213" stop-color="#cae1ee"/><stop offset="0.5377" stop-color="#f3f5f6"/><stop offset="0.5460" stop-color="#f8f2ef"/><stop offset="0.5734" stop-color="#fbe5d8"/><stop offset="0.6173" stop-color="#fcd7c2"/><stop offset="0.6557" stop-color="#fac8af"/><stop offset="0.7106" stop-color="#f8bb9e"/><stop offset="0.7490" stop-color="#f7b596"/><stop offset="0.8066" stop-color="#f6af8e"/><stop offset="0.9877" stop-color="#f2a17f"/><stop offset="0.9986" stop-color="#f2a17f"/></linearGradient>
<linearGradient id="r20" gradientUnits="userSpaceOnUse" x1="156.6" x2="521.1" y1="0" y2="0"><stop offset="0.0000" stop-color="#f5a886"/><stop offset="0.1235" stop-color="#f6b191"/><stop offset="0.1893" stop-color="#f7b99c"/><stop offset="0.2606" stop-color="#facab1"/><stop offset="0.3484" stop-color="#fbe5d8"/><stop offset="0.3951" stop-color="#f5f6f7"/><stop offset="0.4060" stop-color="#d4e6f1"/><stop offset="0.4115" stop-color="#bbdaea"/><stop offset="0.4170" stop-color="#96c7df"/><stop offset="0.4225" stop-color="#62a7ce"/><stop offset="0.4252" stop-color="#4f9bc7"/><stop offset="0.4307" stop-color="#3f8ec0"/><stop offset="0.4335" stop-color="#3b88be"/><stop offset="0.4362" stop-color="#3b88be"/><stop offset="0.4390" stop-color="#4695c4"/><stop offset="0.4444" stop-color="#75b2d4"/><stop offset="0.4472" stop-color="#93c6de"/><stop offset="0.4499" stop-color="#bddbea"/><stop offset="0.4527" stop-color="#e0ecf3"/><stop offset="0.4554" stop-color="#f7f5f4"/><stop offset="0.4582" stop-color="#fae8de"/><stop offset="0.4719" stop-color="#fdd9c4"/><stop offset="0.4801" stop-color="#fac8af"/><stop offset="0.4829" stop-color="#fac8af"/><stop offset="0.4966" stop-color="#fce0d0"/><stop offset="0.5021" stop-color="#fae7dc"/><stop offset="0.5048" stop-color="#f9ede5"/><stop offset="0.5075" stop-color="#f6f7f7"/><stop offset="0.5158" stop-color="#cae1ee"/><stop offset="0.5213" stop-color="#a0cce2"/><stop offset="0.5240" stop-color="#96c7df"/><stop offset="0.5350" stop-color="#d2e6f0"/><stop offset="0.5432" stop-color="#e1edf3"/><stop offset="0.5597" stop-color="#f7f6f6"/><stop offset="0.5734" stop-color="#f8f1ed"/><stop offset="0.5981" stop-color="#f9ebe3"/><stop offset="0.6173" stop-color="#fbe4d6"/><stop offset="0.6804" stop-color="#fcd3bc"/><stop offset="0.7270" stop-color="#f9c4a9"/><stop offset="0.7929" stop-color="#f7b799"/><stop offset="0.8807" stop-color="#f6af8e"/><stop offset="0.9986" stop-color="#f4a683"/></linearGradient>
<linearGradient id="r21" gradientUnits="userSpaceOnUse" x1="156.6" x2="521.1" y1="0" y2="0"><stop offset="0.0000" stop-color="#f6af8e"/><stop offset="0.0439" stop-color="#f6b191"/><stop offset="0.1125" stop-color="#f7b99c"/><stop offset="0.1564" stop-color="#f9c2a7"/><stop offset="0.1920" stop-color="#facab1"/><stop offset="0.2716" stop-color="#fce0d0"/><stop offset="0.3073" stop-color="#fae9df"/><stop offset="0.3457" stop-color="#f6f7f7"/><stop offset="0.3649" stop-color="#e0ecf3"/><stop offset="0.3704" stop-color="#d7e8f1"/><stop offset="0.3759" stop-color="#bddbea"/><stop offset="0.3841" stop-color="#8dc2dc"/><stop offset="0.3896" stop-color="#4291c2"/><stop offset="0.3923" stop-color="#307ab6"/><stop offset="0.3951" stop-color="#2369ad"/><stop offset="0.3978" stop-color="#195696"/><stop offset="0.4005" stop-color="#144e8a"/><stop offset="0.4033" stop-color="#1c5c9f"/><stop offset="0.4060" stop-color="#2e77b5"/><stop offset="0.4088" stop-color="#5fa5cd"/><stop offset="0.4115" stop-color="#a2cde3"/><stop offset="0.4143" stop-color="#d7e8f1"/><stop offset="0.4170" stop-color="#f7f6f6"/><stop offset="0.4198" stop-color="#fbe5d8"/><stop offset="0.4252" stop-color="#f5ac8b"/><stop offset="0.4307" stop-color="#da6853"/><stop offset="0.4335" stop-color="#ce4f45"/><stop offset="0.4390" stop-color="#ba2832"/><stop offset="0.4417" stop-color="#ab162a"/><stop offset="0.4444" stop-color="#991027"/><stop offset="0.4609" stop-color="#8a0b25"/><stop offset="0.4829" stop-color="#840924"/><stop offset="0.4993" stop-color="#8d0c25"/><stop offset="0.5103" stop-color="#991027"/><stop offset="0.5130" stop-color="#a21328"/><stop offset="0.5158" stop-color="#b41c2d"/><stop offset="0.5240" stop-color="#d35a4a"/><stop offset="0.5295" stop-color="#f19e7d"/><stop offset="0.5322" stop-color="#f8bb9e"/><stop offset="0.5350" stop-color="#fddcc9"/><stop offset="0.5377" stop-color="#f9efe9"/><stop offset="0.5405" stop-color="#e6eff4"/><stop offset="0.5432" stop-color="#bbdaea"/><stop offset="0.5460" stop-color="#81bad8"/><stop offset="0.5487" stop-color="#3c8abe"/><stop offset="0.5514" stop-color="#1f63a8"/><stop offset="0.5542" stop-color="#185493"/><stop offset="0.5569" stop-color="#15508d"/><stop offset="0.5597" stop-color="#1e61a5"/><stop offset="0.5624" stop-color="#2870b1"/><stop offset="0.5652" stop-color="#3a87bd"/><stop offset="0.5679" stop-color="#569fc9"/><stop offset="0.5706" stop-color="#7eb8d7"/><stop offset="0.5734" stop-color="#98c8e0"/><stop offset="0.5844" stop-color="#d2e6f0"/><stop offset="0.5926" stop-color="#e3edf3"/><stop offset="0.6091" stop-color="#f5f6f7"/><stop offset="0.6310" stop-color="#f9f0eb"/><stop offset="0.6612" stop-color="#fbe5d8"/><stop offset="0.7298" stop-color="#fcd5bf"/><stop offset="0.7929" stop-color="#f9c4a9"/><stop offset="0.8642" stop-color="#f7b799"/><stop offset="0.9520" stop-color="#f6af8e"/><stop offset="0.9986" stop-color="#f5aa89"/></linearGradient>
<linearGradient id="r22" gradientUnits="userSpaceOnUse" x1="156.6" x2="521.1" y1="0" y2="0"><stop offset="0.0000" stop-color="#f7b596"/><stop offset="0.1015" stop-color="#f9c6ac"/><stop offset="0.2003" stop-color="#fcdfcf"/><stop offset="0.2442" stop-color="#fae9df"/><stop offset="0.2881" stop-color="#f6f7f7"/><stop offset="0.3045" stop-color="#e9f0f4"/><stop offset="0.3182" stop-color="#d8e9f1"/><stop offset="0.3210" stop-color="#d2e6f0"/><stop offset="0.3347" stop-color="#98c8e0"/><stop offset="0.3374" stop-color="#81bad8"/><stop offset="0.3429" stop-color="#4393c3"/><stop offset="0.3484" stop-color="#276eb0"/><stop offset="0.3512" stop-color="#1f63a8"/><stop offset="0.3539" stop-color="#185493"/><stop offset="0.3567" stop-color="#144e8a"/><stop offset="0.3621" stop-color="#2369ad"/><stop offset="0.3649" stop-color="#408fc1"/><stop offset="0.3676" stop-color="#7eb8d7"/><stop offset="0.3704" stop-color="#b1d5e7"/><stop offset="0.3731" stop-color="#dbeaf2"/><stop offset="0.3759" stop-color="#f7f6f6"/><stop offset="0.3813" stop-color="#fcd5bf"/><stop offset="0.3841" stop-color="#f7b799"/><stop offset="0.3868" stop-color="#f19e7d"/><stop offset="0.3923" stop-color="#d7634f"/><stop offset="0.3978" stop-color="#c2383a"/><stop offset="0.4005" stop-color="#b61f2e"/><stop offset="0.4033" stop-color="#a21328"/><stop offset="0.4088" stop-color="#930e26"/><stop offset="0.4198" stop-color="#840924"/><stop offset="0.4499" stop-color="#930e26"/><stop offset="0.4746" stop-color="#9c1127"/><stop offset="0.5048" stop-color="#900d26"/><stop offset="0.5267" stop-color="#840924"/><stop offset="0.5432" stop-color="#991027"/><stop offset="0.5460" stop-color="#b1182b"/><stop offset="0.5542" stop-color="#d35a4a"/><stop offset="0.5569" stop-color="#de735c"/><stop offset="0.5624" stop-color="#f5ac8b"/><stop offset="0.5679" stop-color="#fce0d0"/><stop offset="0.5706" stop-color="#f9f0eb"/><stop offset="0.5734" stop-color="#e7f0f4"/><stop offset="0.5761" stop-color="#c7e0ed"/><stop offset="0.5789" stop-color="#96c7df"/><stop offset="0.5816" stop-color="#59a1ca"/><stop offset="0.5844" stop-color="#2f79b5"/><stop offset="0.5871" stop-color="#1d5fa2"/><stop offset="0.5898" stop-color="#175290"/><stop offset="0.5926" stop-color="#144e8a"/><stop offset="0.5953" stop-color="#1c5c9f"/><stop offset="0.5981" stop-color="#2369ad"/><stop offset="0.6036" stop-color="#3c8abe"/><stop offset="0.6063" stop-color="#569fc9"/><stop offset="0.6118" stop-color="#93c6de"/><stop offset="0.6255" stop-color="#cfe4ef"/><stop offset="0.6310" stop-color="#dbeaf2"/><stop offset="0.6557" stop-color="#f5f6f7"/><stop offset="0.6694" stop-color="#f8f4f2"/><stop offset="0.7188" stop-color="#fbe5d8"/><stop offset="0.8285" stop-color="#fbccb4"/><stop offset="0.8724" stop-color="#f9c2a7"/><stop offset="0.9383" stop-color="#f7b799"/><stop offset="0.9986" stop-color="#f6b191"/></linearGradient>
<linearGradient id="r23" gradientUnits="userSpaceOnUse" x1="156.6" x2="521.1" y1="0" y2="0"><stop offset="0.0000" stop-color="#f9c4a9"/><stop offset="0.0192" stop-color="#f9c6ac"/><stop offset="0.1317" stop-color="#fce0d0"/><stop offset="0.1756" stop-color="#fae9df"/><stop offset="0.2222" stop-color="#f6f7f7"/><stop offset="0.2387" stop-color="#ecf2f5"/><stop offset="0.2579" stop-color="#d8e9f1"/><stop offset="0.2661" stop-color="#c0dceb"/><stop offset="0.2771" stop-color="#96c7df"/><stop offset="0.2798" stop-color="#84bcd9"/><stop offset="0.2853" stop-color="#4f9bc7"/><stop offset="0.2881" stop-color="#3c8abe"/><stop offset="0.2963" stop-color="#1f63a8"/><stop offset="0.3018" stop-color="#134c87"/><stop offset="0.3073" stop-color="#1c5c9f"/><stop offset="0.3100" stop-color="#246aae"/><stop offset="0.3128" stop-color="#3b88be"/><stop offset="0.3155" stop-color="#65a9cf"/><stop offset="0.3182" stop-color="#98c8e0"/><stop offset="0.3210" stop-color="#c0dceb"/><stop offset="0.3237" stop-color="#ddebf2"/><stop offset="0.3265" stop-color="#f5f6f7"/><stop offset="0.3320" stop-color="#fcdfcf"/><stop offset="0.3374" stop-color="#f7b596"/><stop offset="0.3402" stop-color="#f2a17f"/><stop offset="0.3484" stop-color="#d35a4a"/><stop offset="0.3512" stop-color="#cc4c44"/><stop offset="0.3567" stop-color="#b82531"/><stop offset="0.3594" stop-color="#ab162a"/><stop offset="0.3621" stop-color="#991027"/><stop offset="0.3813" stop-color="#840924"/><stop offset="0.4088" stop-color="#930e26"/><stop offset="0.4390" stop-color="#b3192c"/><stop offset="0.4527" stop-color="#b61f2e"/><stop offset="0.4801" stop-color="#b72230"/><stop offset="0.4966" stop-color="#b41c2d"/><stop offset="0.5295" stop-color="#930e26"/><stop offset="0.5569" stop-color="#840924"/><stop offset="0.5761" stop-color="#991027"/><stop offset="0.5789" stop-color="#a51429"/><stop offset="0.5816" stop-color="#b61f2e"/><stop offset="0.5898" stop-color="#d25849"/><stop offset="0.5926" stop-color="#db6b55"/><stop offset="0.5981" stop-color="#f09c7b"/><stop offset="0.6036" stop-color="#f9c6ac"/><stop offset="0.6063" stop-color="#fdddcb"/><stop offset="0.6118" stop-color="#f7f5f4"/><stop offset="0.6145" stop-color="#e3edf3"/><stop offset="0.6173" stop-color="#c7e0ed"/><stop offset="0.6200" stop-color="#a0cce2"/><stop offset="0.6228" stop-color="#71b0d3"/><stop offset="0.6255" stop-color="#408fc1"/><stop offset="0.6283" stop-color="#2a71b2"/><stop offset="0.6310" stop-color="#1d5fa2"/><stop offset="0.6365" stop-color="#134c87"/><stop offset="0.6392" stop-color="#185493"/><stop offset="0.6420" stop-color="#1e61a5"/><stop offset="0.6475" stop-color="#2f79b5"/><stop offset="0.6529" stop-color="#4997c5"/><stop offset="0.6584" stop-color="#7eb8d7"/><stop offset="0.6612" stop-color="#93c6de"/><stop offset="0.6776" stop-color="#d1e5f0"/><stop offset="0.6941" stop-color="#e6eff4"/><stop offset="0.7160" stop-color="#f6f7f7"/><stop offset="0.7819" stop-color="#fbe5d8"/><stop offset="0.8477" stop-color="#fdd9c4"/><stop offset="0.9136" stop-color="#fac8af"/><stop offset="0.9492" stop-color="#f9c2a7"/><stop offset="0.9986" stop-color="#f7b99c"/></linearGradient>
<linearGradient id="r24" gradientUnits="userSpaceOnUse" x1="156.6" x2="521.1" y1="0" y2="0"><stop offset="0.0000" stop-color="#fcd7c2"/><stop offset="0.0988" stop-color="#fae9df"/><stop offset="0.1509" stop-color="#f6f7f7"/><stop offset="0.1728" stop-color="#e9f0f4"/><stop offset="0.1920" stop-color="#d4e6f1"/><stop offset="0.1975" stop-color="#c5dfec"/><stop offset="0.2112" stop-color="#96c7df"/><stop offset="0.2140" stop-color="#84bcd9"/><stop offset="0.2222" stop-color="#408fc1"/><stop offset="0.2305" stop-color="#2369ad"/><stop offset="0.2387" stop-color="#134c87"/><stop offset="0.2469" stop-color="#2065ab"/><stop offset="0.2524" stop-color="#4695c4"/><stop offset="0.2579" stop-color="#9bc9e0"/><stop offset="0.2634" stop-color="#d7e8f1"/><stop offset="0.2661" stop-color="#eaf1f5"/><stop offset="0.2689" stop-color="#f8f3f0"/><stop offset="0.2743" stop-color="#fcdecd"/><stop offset="0.2771" stop-color="#fbceb7"/><stop offset="0.2798" stop-color="#f7b99c"/><stop offset="0.2826" stop-color="#f5aa89"/><stop offset="0.2908" stop-color="#dc6e57"/><stop offset="0.2936" stop-color="#d55d4c"/><stop offset="0.3018" stop-color="#be3036"/><stop offset="0.3045" stop-color="#b61f2e"/><stop offset="0.3073" stop-color="#a81529"/><stop offset="0.3100" stop-color="#991027"/><stop offset="0.3347" stop-color="#840924"/><stop offset="0.3704" stop-color="#960f27"/><stop offset="0.4005" stop-color="#b3192c"/><stop offset="0.4033" stop-color="#b61f2e"/><stop offset="0.4472" stop-color="#be3036"/><stop offset="0.4746" stop-color="#bf3338"/><stop offset="0.5075" stop-color="#ba2832"/><stop offset="0.5322" stop-color="#b1182b"/><stop offset="0.5487" stop-color="#9f1228"/><stop offset="0.5679" stop-color="#900d26"/><stop offset="0.5953" stop-color="#840924"/><stop offset="0.6200" stop-color="#9c1127"/><stop offset="0.6228" stop-color="#ae172a"/><stop offset="0.6255" stop-color="#b72230"/><stop offset="0.6337" stop-color="#cf5246"/><stop offset="0.6365" stop-color="#d6604d"/><stop offset="0.6475" stop-color="#f5ac8b"/><stop offset="0.6502" stop-color="#f8bda1"/><stop offset="0.6529" stop-color="#fcd3bc"/><stop offset="0.6612" stop-color="#f7f5f4"/><stop offset="0.6667" stop-color="#d2e6f0"/><stop offset="0.6722" stop-color="#93c6de"/><stop offset="0.6776" stop-color="#408fc1"/><stop offset="0.6831" stop-color="#1f63a8"/><stop offset="0.6914" stop-color="#134c87"/><stop offset="0.6968" stop-color="#1e61a5"/><stop offset="0.7023" stop-color="#2e77b5"/><stop offset="0.7078" stop-color="#4291c2"/><stop offset="0.7160" stop-color="#8ac0db"/><stop offset="0.7215" stop-color="#a2cde3"/><stop offset="0.7353" stop-color="#cfe4ef"/><stop offset="0.7435" stop-color="#ddebf2"/><stop offset="0.7764" stop-color="#f6f7f7"/><stop offset="0.8505" stop-color="#fbe5d8"/><stop offset="0.9191" stop-color="#fdd9c4"/><stop offset="0.9986" stop-color="#f9c6ac"/></linearGradient>
<linearGradient id="r25" gradientUnits="userSpaceOnUse" x1="156.6" x2="521.1" y1="0" y2="0"><stop offset="0.0000" stop-color="#fbe6da"/><stop offset="0.0549" stop-color="#f8f3f0"/><stop offset="0.0768" stop-color="#f5f6f7"/><stop offset="0.1152" stop-color="#d7e8f1"/><stop offset="0.1235" stop-color="#c2ddec"/><stop offset="0.1399" stop-color="#90c4dd"/><stop offset="0.1481" stop-color="#4f9bc7"/><stop offset="0.1509" stop-color="#3f8ec0"/><stop offset="0.1591" stop-color="#246aae"/><stop offset="0.1619" stop-color="#1f63a8"/><stop offset="0.1674" stop-color="#15508d"/><stop offset="0.1701" stop-color="#144e8a"/><stop offset="0.1783" stop-color="#2065ab"/><stop offset="0.1838" stop-color="#4393c3"/><stop offset="0.1893" stop-color="#90c4dd"/><stop offset="0.1948" stop-color="#cce2ef"/><stop offset="0.2003" stop-color="#f2f5f6"/><stop offset="0.2058" stop-color="#fae7dc"/><stop offset="0.2085" stop-color="#fdddcb"/><stop offset="0.2140" stop-color="#f7b99c"/><stop offset="0.2195" stop-color="#f09c7b"/><stop offset="0.2277" stop-color="#d86551"/><stop offset="0.2414" stop-color="#b72230"/><stop offset="0.2442" stop-color="#ae172a"/><stop offset="0.2469" stop-color="#9f1228"/><stop offset="0.2524" stop-color="#960f27"/><stop offset="0.2798" stop-color="#840924"/><stop offset="0.3210" stop-color="#960f27"/><stop offset="0.3429" stop-color="#a81529"/><stop offset="0.3594" stop-color="#b41c2d"/><stop offset="0.4225" stop-color="#c2383a"/><stop offset="0.4856" stop-color="#c43b3c"/><stop offset="0.5075" stop-color="#c13639"/><stop offset="0.5597" stop-color="#b41c2d"/><stop offset="0.5816" stop-color="#a21328"/><stop offset="0.6091" stop-color="#900d26"/><stop offset="0.6420" stop-color="#840924"/><stop offset="0.6694" stop-color="#991027"/><stop offset="0.6722" stop-color="#9f1228"/><stop offset="0.6749" stop-color="#ae172a"/><stop offset="0.6831" stop-color="#c43b3c"/><stop offset="0.6914" stop-color="#d7634f"/><stop offset="0.7023" stop-color="#f5aa89"/><stop offset="0.7051" stop-color="#f7b99c"/><stop offset="0.7106" stop-color="#fddcc9"/><stop offset="0.7160" stop-color="#f9f0eb"/><stop offset="0.7188" stop-color="#f3f5f6"/><stop offset="0.7243" stop-color="#cfe4ef"/><stop offset="0.7298" stop-color="#93c6de"/><stop offset="0.7353" stop-color="#4393c3"/><stop offset="0.7407" stop-color="#2065ab"/><stop offset="0.7490" stop-color="#144e8a"/><stop offset="0.7517" stop-color="#144e8a"/><stop offset="0.7572" stop-color="#1e61a5"/><stop offset="0.7654" stop-color="#3681ba"/><stop offset="0.7682" stop-color="#3f8ec0"/><stop offset="0.7737" stop-color="#62a7ce"/><stop offset="0.7791" stop-color="#8dc2dc"/><stop offset="0.7984" stop-color="#cae1ee"/><stop offset="0.8066" stop-color="#dae9f2"/><stop offset="0.8450" stop-color="#f6f7f7"/><stop offset="0.9273" stop-color="#fbe4d6"/><stop offset="0.9959" stop-color="#fdd9c4"/><stop offset="0.9986" stop-color="#fcd7c2"/></linearGradient>
<linearGradient id="r26" gradientUnits="userSpaceOnUse" x1="156.6" x2="521.1" y1="0" y2="0"><stop offset="0.0000" stop-color="#f2f5f6"/><stop offset="0.0357" stop-color="#d5e7f1"/><stop offset="0.0412" stop-color="#cae1ee"/><stop offset="0.0604" stop-color="#90c4dd"/><stop offset="0.0713" stop-color="#408fc1"/><stop offset="0.0823" stop-color="#2065ab"/><stop offset="0.0905" stop-color="#124984"/><stop offset="0.1015" stop-color="#2065ab"/><stop offset="0.1070" stop-color="#408fc1"/><stop offset="0.1097" stop-color="#5fa5cd"/><stop offset="0.1125" stop-color="#84bcd9"/><stop offset="0.1207" stop-color="#d4e6f1"/><stop offset="0.1262" stop-color="#f3f5f6"/><stop offset="0.1289" stop-color="#f8f1ed"/><stop offset="0.1344" stop-color="#fcdfcf"/><stop offset="0.1454" stop-color="#f5a886"/><stop offset="0.1564" stop-color="#da6853"/><stop offset="0.1674" stop-color="#c13639"/><stop offset="0.1728" stop-color="#b61f2e"/><stop offset="0.1756" stop-color="#ab162a"/><stop offset="0.1783" stop-color="#9f1228"/><stop offset="0.1838" stop-color="#960f27"/><stop offset="0.2112" stop-color="#840924"/><stop offset="0.2524" stop-color="#900d26"/><stop offset="0.2936" stop-color="#ab162a"/><stop offset="0.3128" stop-color="#b61f2e"/><stop offset="0.3402" stop-color="#ba2832"/><stop offset="0.3813" stop-color="#c2383a"/><stop offset="0.4472" stop-color="#c6413e"/><stop offset="0.4801" stop-color="#c6413e"/><stop offset="0.5377" stop-color="#c13639"/><stop offset="0.5844" stop-color="#b72230"/><stop offset="0.6063" stop-color="#b1182b"/><stop offset="0.6502" stop-color="#930e26"/><stop offset="0.6859" stop-color="#870a24"/><stop offset="0.6996" stop-color="#840924"/><stop offset="0.7270" stop-color="#991027"/><stop offset="0.7298" stop-color="#9f1228"/><stop offset="0.7325" stop-color="#ab162a"/><stop offset="0.7353" stop-color="#b61f2e"/><stop offset="0.7490" stop-color="#d35a4a"/><stop offset="0.7572" stop-color="#e8896c"/><stop offset="0.7627" stop-color="#f5a886"/><stop offset="0.7682" stop-color="#f9c4a9"/><stop offset="0.7709" stop-color="#fcd5bf"/><stop offset="0.7791" stop-color="#f8f1ed"/><stop offset="0.7819" stop-color="#f3f5f6"/><stop offset="0.7874" stop-color="#d4e6f1"/><stop offset="0.7956" stop-color="#84bcd9"/><stop offset="0.7984" stop-color="#5fa5cd"/><stop offset="0.8011" stop-color="#408fc1"/><stop offset="0.8066" stop-color="#2065ab"/><stop offset="0.8176" stop-color="#124984"/><stop offset="0.8258" stop-color="#2065ab"/><stop offset="0.8340" stop-color="#3885bc"/><stop offset="0.8368" stop-color="#4291c2"/><stop offset="0.8422" stop-color="#68abd0"/><stop offset="0.8477" stop-color="#90c4dd"/><stop offset="0.8697" stop-color="#d1e5f0"/><stop offset="0.8779" stop-color="#dbeaf2"/><stop offset="0.9136" stop-color="#f5f6f7"/><stop offset="0.9328" stop-color="#f8f4f2"/><stop offset="0.9986" stop-color="#fbe5d8"/></linearGradient>
<linearGradient id="r27" gradientUnits="userSpaceOnUse" x1="156.6" x2="521.1" y1="0" y2="0"><stop offset="0.0000" stop-color="#2065ab"/><stop offset="0.0082" stop-color="#134c87"/><stop offset="0.0192" stop-color="#1f63a8"/><stop offset="0.0247" stop-color="#3885bc"/><stop offset="0.0274" stop-color="#4f9bc7"/><stop offset="0.0329" stop-color="#90c4dd"/><stop offset="0.0384" stop-color="#c5dfec"/><stop offset="0.0439" stop-color="#e7f0f4"/><stop offset="0.0466" stop-color="#f7f6f6"/><stop offset="0.0549" stop-color="#fcdecd"/><stop offset="0.0576" stop-color="#fcd3bc"/><stop offset="0.0604" stop-color="#f9c2a7"/><stop offset="0.0686" stop-color="#ef9979"/><stop offset="0.0796" stop-color="#d35a4a"/><stop offset="0.0960" stop-color="#b41c2d"/><stop offset="0.1015" stop-color="#9f1228"/><stop offset="0.1070" stop-color="#960f27"/><stop offset="0.1235" stop-color="#8d0c25"/><stop offset="0.1399" stop-color="#840924"/><stop offset="0.1920" stop-color="#930e26"/><stop offset="0.2085" stop-color="#9f1228"/><stop offset="0.2250" stop-color="#a81529"/><stop offset="0.2469" stop-color="#b41c2d"/><stop offset="0.3347" stop-color="#c2383a"/><stop offset="0.4362" stop-color="#c94741"/><stop offset="0.4746" stop-color="#c94741"/><stop offset="0.5432" stop-color="#c43b3c"/><stop offset="0.5734" stop-color="#c13639"/><stop offset="0.6228" stop-color="#b82531"/><stop offset="0.6475" stop-color="#b41c2d"/><stop offset="0.6612" stop-color="#ae172a"/><stop offset="0.7133" stop-color="#900d26"/><stop offset="0.7572" stop-color="#840924"/><stop offset="0.7929" stop-color="#991027"/><stop offset="0.7984" stop-color="#b1182b"/><stop offset="0.8121" stop-color="#cc4c44"/><stop offset="0.8176" stop-color="#d7634f"/><stop offset="0.8285" stop-color="#f2a17f"/><stop offset="0.8368" stop-color="#facab1"/><stop offset="0.8395" stop-color="#fddbc7"/><stop offset="0.8477" stop-color="#f8f3f0"/><stop offset="0.8505" stop-color="#eff3f5"/><stop offset="0.8560" stop-color="#d1e5f0"/><stop offset="0.8642" stop-color="#81bad8"/><stop offset="0.8697" stop-color="#408fc1"/><stop offset="0.8752" stop-color="#2267ac"/><stop offset="0.8861" stop-color="#134c87"/><stop offset="0.8889" stop-color="#15508d"/><stop offset="0.8971" stop-color="#2369ad"/><stop offset="0.9081" stop-color="#4291c2"/><stop offset="0.9191" stop-color="#8dc2dc"/><stop offset="0.9218" stop-color="#98c8e0"/><stop offset="0.9465" stop-color="#d5e7f1"/><stop offset="0.9877" stop-color="#f5f6f7"/><stop offset="0.9986" stop-color="#f7f6f6"/></linearGradient>
<linearGradient id="r28" gradientUnits="userSpaceOnUse" x1="156.6" x2="521.1" y1="0" y2="0"><stop offset="0.0000" stop-color="#ce4f45"/><stop offset="0.0137" stop-color="#b41c2d"/><stop offset="0.0192" stop-color="#a21328"/><stop offset="0.0219" stop-color="#991027"/><stop offset="0.0576" stop-color="#840924"/><stop offset="0.1152" stop-color="#930e26"/><stop offset="0.1372" stop-color="#9f1228"/><stop offset="0.1536" stop-color="#a81529"/><stop offset="0.1783" stop-color="#b41c2d"/><stop offset="0.2826" stop-color="#c2383a"/><stop offset="0.3731" stop-color="#c84440"/><stop offset="0.4170" stop-color="#cb4942"/><stop offset="0.4499" stop-color="#cc4c44"/><stop offset="0.4719" stop-color="#cb4942"/><stop offset="0.5213" stop-color="#c84440"/><stop offset="0.5597" stop-color="#c53e3d"/><stop offset="0.6063" stop-color="#c2383a"/><stop offset="0.6968" stop-color="#b61f2e"/><stop offset="0.7215" stop-color="#ab162a"/><stop offset="0.7682" stop-color="#930e26"/><stop offset="0.8121" stop-color="#870a24"/><stop offset="0.8258" stop-color="#840924"/><stop offset="0.8615" stop-color="#9c1127"/><stop offset="0.8669" stop-color="#b3192c"/><stop offset="0.8861" stop-color="#d6604d"/><stop offset="0.8999" stop-color="#f5a886"/><stop offset="0.9081" stop-color="#fbccb4"/><stop offset="0.9108" stop-color="#fddbc7"/><stop offset="0.9191" stop-color="#f8f2ef"/><stop offset="0.9218" stop-color="#f3f5f6"/><stop offset="0.9273" stop-color="#d7e8f1"/><stop offset="0.9300" stop-color="#c5dfec"/><stop offset="0.9355" stop-color="#96c7df"/><stop offset="0.9410" stop-color="#59a1ca"/><stop offset="0.9438" stop-color="#3f8ec0"/><stop offset="0.9492" stop-color="#2369ad"/><stop offset="0.9602" stop-color="#144e8a"/><stop offset="0.9630" stop-color="#144e8a"/><stop offset="0.9712" stop-color="#2267ac"/><stop offset="0.9767" stop-color="#2f79b5"/><stop offset="0.9822" stop-color="#408fc1"/><stop offset="0.9849" stop-color="#4f9bc7"/><stop offset="0.9931" stop-color="#8ac0db"/><stop offset="0.9986" stop-color="#9dcbe1"/></linearGradient>
<linearGradient id="r29" gradientUnits="userSpaceOnUse" x1="156.6" x2="521.1" y1="0" y2="0"><stop offset="0.0000" stop-color="#8a0b25"/><stop offset="0.0329" stop-color="#930e26"/><stop offset="0.0850" stop-color="#ae172a"/><stop offset="0.1207" stop-color="#b72230"/><stop offset="0.1811" stop-color="#be3036"/><stop offset="0.2140" stop-color="#c2383a"/><stop offset="0.2606" stop-color="#c43b3c"/><stop offset="0.2826" stop-color="#c53e3d"/><stop offset="0.3512" stop-color="#c94741"/><stop offset="0.3978" stop-color="#cc4c44"/><stop offset="0.4444" stop-color="#ce4f45"/><stop offset="0.5103" stop-color="#cb4942"/><stop offset="0.5322" stop-color="#c94741"/><stop offset="0.5761" stop-color="#c6413e"/><stop offset="0.6283" stop-color="#c43b3c"/><stop offset="0.6694" stop-color="#c13639"/><stop offset="0.7462" stop-color="#b72230"/><stop offset="0.7764" stop-color="#b1182b"/><stop offset="0.8038" stop-color="#a21328"/><stop offset="0.8422" stop-color="#900d26"/><stop offset="0.8944" stop-color="#840924"/><stop offset="0.9328" stop-color="#991027"/><stop offset="0.9383" stop-color="#ab162a"/><stop offset="0.9410" stop-color="#b41c2d"/><stop offset="0.9602" stop-color="#d6604d"/><stop offset="0.9739" stop-color="#f5a886"/><stop offset="0.9849" stop-color="#fdddcb"/><stop offset="0.9931" stop-color="#f8f4f2"/><stop offset="0.9959" stop-color="#edf2f5"/><stop offset="0.9986" stop-color="#deebf2"/></linearGradient>
<linearGradient id="r30" gradientUnits="userSpaceOnUse" x1="156.6" x2="521.1" y1="0" y2="0"><stop offset="0.0000" stop-color="#ae172a"/><stop offset="0.0302" stop-color="#b61f2e"/><stop offset="0.1427" stop-color="#c2383a"/><stop offset="0.1920" stop-color="#c43b3c"/><stop offset="0.2140" stop-color="#c53e3d"/><stop offset="0.3018" stop-color="#c94741"/><stop offset="0.3978" stop-color="#cf5246"/><stop offset="0.4691" stop-color="#cf5246"/><stop offset="0.5130" stop-color="#cc4c44"/><stop offset="0.5652" stop-color="#c94741"/><stop offset="0.6228" stop-color="#c6413e"/><stop offset="0.6804" stop-color="#c43b3c"/><stop offset="0.7270" stop-color="#c13639"/><stop offset="0.7490" stop-color="#be3036"/><stop offset="0.8313" stop-color="#b41c2d"/><stop offset="0.8615" stop-color="#a51429"/><stop offset="0.8779" stop-color="#9f1228"/><stop offset="0.9053" stop-color="#930e26"/><stop offset="0.9410" stop-color="#8a0b25"/><stop offset="0.9684" stop-color="#840924"/><stop offset="0.9986" stop-color="#960f27"/></linearGradient>
<pattern id="nz" patternUnits="userSpaceOnUse" x="155.69" y="70.69" width="116.640" height="37.280"><path fill="#000" fill-opacity="0.048" d="M27.34 0.00h1.82v9.32h-1.82zM69.25 0.00h1.82v9.32h-1.82zM87.48 0.00h1.82v9.32h-1.82zM109.35 0.00h1.82v9.32h-1.82zM29.16 9.32h1.82v9.32h-1.82zM61.97 9.32h1.82v9.32h-1.82zM94.77 9.32h1.82v9.32h-1.82zM1.82 18.64h1.82v9.32h-1.82zM45.56 18.64h1.82v9.32h-1.82zM76.55 18.64h1.82v9.32h-1.82zM87.48 18.64h1.82v9.32h-1.82zM94.77 18.64h1.82v9.32h-1.82zM103.88 18.64h1.82v9.32h-1.82zM60.14 27.96h1.82v9.32h-1.82zM89.30 27.96h1.82v9.32h-1.82zM100.24 27.96h1.82v9.32h-1.82z"/><path fill="#000" fill-opacity="0.032" d="M25.52 0.00h1.82v9.32h-1.82zM52.85 0.00h1.82v9.32h-1.82zM60.14 0.00h1.82v9.32h-1.82zM85.66 0.00h1.82v9.32h-1.82zM1.82 9.32h1.82v9.32h-1.82zM18.23 9.32h1.82v9.32h-1.82zM27.34 9.32h1.82v9.32h-1.82zM30.98 9.32h1.82v9.32h-1.82zM40.09 9.32h1.82v9.32h-1.82zM49.21 9.32h1.82v9.32h-1.82zM52.85 9.32h1.82v9.32h-1.82zM54.67 9.32h1.82v9.32h-1.82zM76.55 9.32h1.82v9.32h-1.82zM18.23 18.64h1.82v9.32h-1.82zM20.05 18.64h1.82v9.32h-1.82zM36.45 18.64h1.82v9.32h-1.82zM40.09 18.64h1.82v9.32h-1.82zM61.97 18.64h1.82v9.32h-1.82zM92.95 18.64h1.82v9.32h-1.82zM20.05 27.96h1.82v9.32h-1.82zM23.69 27.96h1.82v9.32h-1.82zM45.56 27.96h1.82v9.32h-1.82zM47.38 27.96h1.82v9.32h-1.82zM54.67 27.96h1.82v9.32h-1.82zM56.50 27.96h1.82v9.32h-1.82zM109.35 27.96h1.82v9.32h-1.82z"/><path fill="#000" fill-opacity="0.016" d="M1.82 0.00h1.82v9.32h-1.82zM3.65 0.00h1.82v9.32h-1.82zM5.47 0.00h1.82v9.32h-1.82zM7.29 0.00h1.82v9.32h-1.82zM9.11 0.00h1.82v9.32h-1.82zM16.40 0.00h1.82v9.32h-1.82zM30.98 0.00h1.82v9.32h-1.82zM38.27 0.00h1.82v9.32h-1.82zM43.74 0.00h1.82v9.32h-1.82zM49.21 0.00h1.82v9.32h-1.82zM74.72 0.00h1.82v9.32h-1.82zM82.01 0.00h1.82v9.32h-1.82zM102.06 0.00h1.82v9.32h-1.82zM103.88 0.00h1.82v9.32h-1.82zM113.00 0.00h1.82v9.32h-1.82zM0.00 9.32h1.82v9.32h-1.82zM3.65 9.32h1.82v9.32h-1.82zM20.05 9.32h1.82v9.32h-1.82zM23.69 9.32h1.82v9.32h-1.82zM25.52 9.32h1.82v9.32h-1.82zM41.92 9.32h1.82v9.32h-1.82zM43.74 9.32h1.82v9.32h-1.82zM47.38 9.32h1.82v9.32h-1.82zM56.50 9.32h1.82v9.32h-1.82zM80.19 9.32h1.82v9.32h-1.82zM82.01 9.32h1.82v9.32h-1.82zM91.12 9.32h1.82v9.32h-1.82zM98.42 9.32h1.82v9.32h-1.82zM102.06 9.32h1.82v9.32h-1.82zM103.88 9.32h1.82v9.32h-1.82zM105.70 9.32h1.82v9.32h-1.82zM107.53 9.32h1.82v9.32h-1.82zM114.82 9.32h1.82v9.32h-1.82zM29.16 18.64h1.82v9.32h-1.82zM41.92 18.64h1.82v9.32h-1.82zM47.38 18.64h1.82v9.32h-1.82zM52.85 18.64h1.82v9.32h-1.82zM67.43 18.64h1.82v9.32h-1.82zM72.90 18.64h1.82v9.32h-1.82zM85.66 18.64h1.82v9.32h-1.82zM113.00 18.64h1.82v9.32h-1.82zM1.82 27.96h1.82v9.32h-1.82zM7.29 27.96h1.82v9.32h-1.82zM10.94 27.96h1.82v9.32h-1.82zM29.16 27.96h1.82v9.32h-1.82zM30.98 27.96h1.82v9.32h-1.82zM32.80 27.96h1.82v9.32h-1.82zM38.27 27.96h1.82v9.32h-1.82zM52.85 27.96h1.82v9.32h-1.82zM63.79 27.96h1.82v9.32h-1.82zM69.25 27.96h1.82v9.32h-1.82zM83.83 27.96h1.82v9.32h-1.82zM87.48 27.96h1.82v9.32h-1.82zM91.12 27.96h1.82v9.32h-1.82zM92.95 27.96h1.82v9.32h-1.82zM96.59 27.96h1.82v9.32h-1.82zM102.06 27.96h1.82v9.32h-1.82zM105.70 27.96h1.82v9.32h-1.82zM114.82 27.96h1.82v9.32h-1.82z"/><path fill="#fff" fill-opacity="0.028" d="M12.76 0.00h1.82v9.32h-1.82zM14.58 0.00h1.82v9.32h-1.82zM18.23 0.00h1.82v9.32h-1.82zM20.05 0.00h1.82v9.32h-1.82zM21.87 0.00h1.82v9.32h-1.82zM32.80 0.00h1.82v9.32h-1.82zM51.03 0.00h1.82v9.32h-1.82zM58.32 0.00h1.82v9.32h-1.82zM63.79 0.00h1.82v9.32h-1.82zM65.61 0.00h1.82v9.32h-1.82zM67.43 0.00h1.82v9.32h-1.82zM72.90 0.00h1.82v9.32h-1.82zM92.95 0.00h1.82v9.32h-1.82zM98.42 0.00h1.82v9.32h-1.82zM111.17 0.00h1.82v9.32h-1.82zM9.11 9.32h1.82v9.32h-1.82zM32.80 9.32h1.82v9.32h-1.82zM36.45 9.32h1.82v9.32h-1.82zM38.27 9.32h1.82v9.32h-1.82zM51.03 9.32h1.82v9.32h-1.82zM67.43 9.32h1.82v9.32h-1.82zM72.90 9.32h1.82v9.32h-1.82zM83.83 9.32h1.82v9.32h-1.82zM85.66 9.32h1.82v9.32h-1.82zM100.24 9.32h1.82v9.32h-1.82zM109.35 9.32h1.82v9.32h-1.82zM111.17 9.32h1.82v9.32h-1.82zM113.00 9.32h1.82v9.32h-1.82zM7.29 18.64h1.82v9.32h-1.82zM9.11 18.64h1.82v9.32h-1.82zM14.58 18.64h1.82v9.32h-1.82zM32.80 18.64h1.82v9.32h-1.82zM49.21 18.64h1.82v9.32h-1.82zM63.79 18.64h1.82v9.32h-1.82zM65.61 18.64h1.82v9.32h-1.82zM91.12 18.64h1.82v9.32h-1.82zM100.24 18.64h1.82v9.32h-1.82zM111.17 18.64h1.82v9.32h-1.82zM3.65 27.96h1.82v9.32h-1.82zM5.47 27.96h1.82v9.32h-1.82zM12.76 27.96h1.82v9.32h-1.82zM16.40 27.96h1.82v9.32h-1.82zM18.23 27.96h1.82v9.32h-1.82zM21.87 27.96h1.82v9.32h-1.82zM25.52 27.96h1.82v9.32h-1.82zM27.34 27.96h1.82v9.32h-1.82zM40.09 27.96h1.82v9.32h-1.82zM49.21 27.96h1.82v9.32h-1.82zM51.03 27.96h1.82v9.32h-1.82zM78.37 27.96h1.82v9.32h-1.82zM107.53 27.96h1.82v9.32h-1.82zM111.17 27.96h1.82v9.32h-1.82zM113.00 27.96h1.82v9.32h-1.82z"/><path fill="#fff" fill-opacity="0.056" d="M29.16 0.00h1.82v9.32h-1.82zM34.63 0.00h1.82v9.32h-1.82zM61.97 0.00h1.82v9.32h-1.82zM78.37 0.00h1.82v9.32h-1.82zM94.77 0.00h1.82v9.32h-1.82zM12.76 9.32h1.82v9.32h-1.82zM16.40 9.32h1.82v9.32h-1.82zM34.63 9.32h1.82v9.32h-1.82zM60.14 9.32h1.82v9.32h-1.82zM65.61 9.32h1.82v9.32h-1.82zM69.25 9.32h1.82v9.32h-1.82zM74.72 9.32h1.82v9.32h-1.82zM87.48 9.32h1.82v9.32h-1.82zM89.30 9.32h1.82v9.32h-1.82zM0.00 18.64h1.82v9.32h-1.82zM43.74 18.64h1.82v9.32h-1.82zM54.67 18.64h1.82v9.32h-1.82zM58.32 18.64h1.82v9.32h-1.82zM60.14 18.64h1.82v9.32h-1.82zM78.37 18.64h1.82v9.32h-1.82zM96.59 18.64h1.82v9.32h-1.82zM102.06 18.64h1.82v9.32h-1.82zM14.58 27.96h1.82v9.32h-1.82zM34.63 27.96h1.82v9.32h-1.82zM61.97 27.96h1.82v9.32h-1.82zM71.08 27.96h1.82v9.32h-1.82zM76.55 27.96h1.82v9.32h-1.82zM94.77 27.96h1.82v9.32h-1.82zM103.88 27.96h1.82v9.32h-1.82z"/><path fill="#fff" fill-opacity="0.084" d="M41.92 0.00h1.82v9.32h-1.82zM83.83 0.00h1.82v9.32h-1.82zM107.53 0.00h1.82v9.32h-1.82zM14.58 9.32h1.82v9.32h-1.82zM10.94 18.64h1.82v9.32h-1.82zM27.34 18.64h1.82v9.32h-1.82zM34.63 18.64h1.82v9.32h-1.82zM74.72 18.64h1.82v9.32h-1.82zM98.42 27.96h1.82v9.32h-1.82z"/><path fill="#fff" fill-opacity="0.112" d="M0.00 0.00h1.82v9.32h-1.82zM80.19 0.00h1.82v9.32h-1.82z"/></pattern>
<linearGradient id="cb" x1="0" x2="0" y1="0" y2="1"><stop offset="0.000" stop-color="#67001f"/><stop offset="0.025" stop-color="#790622"/><stop offset="0.050" stop-color="#8a0b25"/><stop offset="0.075" stop-color="#9f1228"/><stop offset="0.100" stop-color="#b1182b"/><stop offset="0.125" stop-color="#ba2832"/><stop offset="0.150" stop-color="#c43b3c"/><stop offset="0.175" stop-color="#cc4c44"/><stop offset="0.200" stop-color="#d6604d"/><stop offset="0.225" stop-color="#dd7059"/><stop offset="0.250" stop-color="#e48066"/><stop offset="0.275" stop-color="#ec9374"/><stop offset="0.300" stop-color="#f3a481"/><stop offset="0.325" stop-color="#f6b394"/><stop offset="0.350" stop-color="#f8bfa4"/><stop offset="0.375" stop-color="#fbccb4"/><stop offset="0.400" stop-color="#fddbc7"/><stop offset="0.425" stop-color="#fce2d2"/><stop offset="0.450" stop-color="#fae9df"/><stop offset="0.475" stop-color="#f9f0eb"/><stop offset="0.500" stop-color="#f7f6f6"/><stop offset="0.525" stop-color="#edf2f5"/><stop offset="0.550" stop-color="#e4eef4"/><stop offset="0.575" stop-color="#dae9f2"/><stop offset="0.600" stop-color="#d1e5f0"/><stop offset="0.625" stop-color="#c2ddec"/><stop offset="0.650" stop-color="#b1d5e7"/><stop offset="0.675" stop-color="#a2cde3"/><stop offset="0.700" stop-color="#90c4dd"/><stop offset="0.725" stop-color="#7eb8d7"/><stop offset="0.750" stop-color="#6bacd1"/><stop offset="0.775" stop-color="#569fc9"/><stop offset="0.800" stop-color="#4393c3"/><stop offset="0.825" stop-color="#3a87bd"/><stop offset="0.850" stop-color="#327cb7"/><stop offset="0.875" stop-color="#2a71b2"/><stop offset="0.900" stop-color="#2065ab"/><stop offset="0.925" stop-color="#1a5899"/><stop offset="0.950" stop-color="#124984"/><stop offset="0.975" stop-color="#0c3d73"/><stop offset="1.000" stop-color="#053061"/></linearGradient>
<clipPath id="cbx"><rect x="156.5" y="546.1" width="455.8" height="360.7"/></clipPath>
<clipPath id="ci"><rect x="249.0" y="588.9" width="208.9" height="138.5"/></clipPath>
</defs>
<rect width="685" height="998" fill="#fff"/>
<text transform="translate(0 25) scale(1 1.045)" font-size="32.6" stroke-width="0.42"><tspan x="-3.3" y="0.7" font-size="33.5">(</tspan><tspan x="8.65" y="0">a</tspan><tspan x="29.9" y="0.7" font-size="33.5">)</tspan></text>
<rect x="95.2" y="7.35" width="464.2" height="46.75" rx="4.8" ry="4.8" fill="#fff" stroke="#cdcdcd" stroke-width="3.3"/>
<path d="M126.90 22.25L121.65 32.75L132.15 32.75Z" fill="#000" />
<g transform="translate(168.70 34.00)"><text transform="translate(0.00 0.00) scale(1 1.045)" font-size="22.70" stroke-width="0.30" >Extracted </text><text x="102.19" y="0.00" font-size="22.70" stroke-width="0.30" font-family="DejaVu Sans, sans-serif">Φ</text><text x="120.06" y="6.21" font-size="15.89" stroke-width="0.21" font-family="DejaVu Sans, sans-serif" font-style="italic">z</text><text x="120.06" y="-8.69" font-size="15.89" stroke-width="0.21" font-family="DejaVu Sans, sans-serif">sym</text></g>
<path d="M369.9 28.2H415.3" stroke="#00ffff" stroke-width="2.7" fill="none" stroke-linecap="round"/>
<g transform="translate(433.70 34.00)"><text transform="translate(0.00 0.00) scale(1 1.045)" font-size="22.70" stroke-width="0.30" >Fitted </text><text x="63.08" y="0.00" font-size="22.70" stroke-width="0.30" font-family="DejaVu Sans, sans-serif">Φ</text><text x="80.95" y="6.21" font-size="15.89" stroke-width="0.21" font-family="DejaVu Sans, sans-serif" font-style="italic">z</text><text x="80.95" y="-8.69" font-size="15.89" stroke-width="0.21" font-family="DejaVu Sans, sans-serif">sym</text></g>
<g clip-path="url(#ca)">
<g>
<rect x="156.6" y="70.00" width="364.5" height="10.61" fill="url(#r0)"/>
<rect x="156.6" y="80.01" width="364.5" height="9.92" fill="url(#r1)"/>
<rect x="156.6" y="89.33" width="364.5" height="9.92" fill="url(#r2)"/>
<rect x="156.6" y="98.65" width="364.5" height="9.92" fill="url(#r3)"/>
<rect x="156.6" y="107.97" width="364.5" height="9.92" fill="url(#r4)"/>
<rect x="156.6" y="117.29" width="364.5" height="9.92" fill="url(#r5)"/>
<rect x="156.6" y="126.61" width="364.5" height="9.92" fill="url(#r6)"/>
<rect x="156.6" y="135.93" width="364.5" height="9.92" fill="url(#r7)"/>
<rect x="156.6" y="145.25" width="364.5" height="9.92" fill="url(#r8)"/>
<rect x="156.6" y="154.57" width="364.5" height="9.92" fill="url(#r9)"/>
<rect x="156.6" y="163.89" width="364.5" height="9.92" fill="url(#r10)"/>
<rect x="156.6" y="173.21" width="364.5" height="9.92" fill="url(#r11)"/>
<rect x="156.6" y="182.53" width="364.5" height="9.92" fill="url(#r12)"/>
<rect x="156.6" y="191.85" width="364.5" height="9.92" fill="url(#r13)"/>
<rect x="156.6" y="201.17" width="364.5" height="9.92" fill="url(#r14)"/>
<rect x="156.6" y="210.49" width="364.5" height="9.92" fill="url(#r15)"/>
<rect x="156.6" y="219.81" width="364.5" height="9.92" fill="url(#r16)"/>
<rect x="156.6" y="229.13" width="364.5" height="9.92" fill="url(#r17)"/>
<rect x="156.6" y="238.45" width="364.5" height="9.92" fill="url(#r18)"/>
<rect x="156.6" y="247.77" width="364.5" height="9.92" fill="url(#r19)"/>
<rect x="156.6" y="257.09" width="364.5" height="9.92" fill="url(#r20)"/>
<rect x="156.6" y="266.41" width="364.5" height="9.92" fill="url(#r21)"/>
<rect x="156.6" y="275.73" width="364.5" height="9.92" fill="url(#r22)"/>
<rect x="156.6" y="285.05" width="364.5" height="9.92" fill="url(#r23)"/>
<rect x="156.6" y="294.37" width="364.5" height="9.92" fill="url(#r24)"/>
<rect x="156.6" y="303.69" width="364.5" height="9.92" fill="url(#r25)"/>
<rect x="156.6" y="313.01" width="364.5" height="9.92" fill="url(#r26)"/>
<rect x="156.6" y="322.33" width="364.5" height="9.92" fill="url(#r27)"/>
<rect x="156.6" y="331.65" width="364.5" height="9.92" fill="url(#r28)"/>
<rect x="156.6" y="340.97" width="364.5" height="9.92" fill="url(#r29)"/>
<rect x="156.6" y="350.29" width="364.5" height="9.92" fill="url(#r30)"/>
</g>
<rect x="156.6" y="71.0" width="364.5" height="288.5" fill="url(#nz)"/>
<path d="M366.67 70.45L361.42 79.85L371.92 79.85Z" fill="#000" />
<path d="M363.30 79.77L358.05 89.17L368.55 89.17Z" fill="#000" />
<path d="M360.40 89.09L355.15 98.49L365.65 98.49Z" fill="#000" />
<path d="M357.86 98.41L352.61 107.81L363.11 107.81Z" fill="#000" />
<path d="M355.60 107.73L350.35 117.13L360.85 117.13Z" fill="#000" />
<path d="M353.57 117.05L348.32 126.45L358.82 126.45Z" fill="#000" />
<path d="M351.71 126.37L346.46 135.77L356.96 135.77Z" fill="#000" />
<path d="M349.99 135.69L344.74 145.09L355.24 145.09Z" fill="#000" />
<path d="M348.39 145.01L343.14 154.41L353.64 154.41Z" fill="#000" />
<path d="M346.88 154.33L341.63 163.73L352.13 163.73Z" fill="#000" />
<path d="M345.44 163.65L340.19 173.05L350.69 173.05Z" fill="#000" />
<path d="M344.06 172.97L338.81 182.37L349.31 182.37Z" fill="#000" />
<path d="M342.72 182.29L337.47 191.69L347.97 191.69Z" fill="#000" />
<path d="M341.41 191.61L336.16 201.01L346.66 201.01Z" fill="#000" />
<path d="M340.13 200.93L334.88 210.33L345.38 210.33Z" fill="#000" />
<path d="M338.85 210.25L333.60 219.65L344.10 219.65Z" fill="#000" />
<path d="M337.57 219.57L332.32 228.97L342.82 228.97Z" fill="#000" />
<path d="M336.29 228.89L331.04 238.29L341.54 238.29Z" fill="#000" />
<path d="M334.98 238.21L329.73 247.61L340.23 247.61Z" fill="#000" />
<path d="M333.64 247.53L328.39 256.93L338.89 256.93Z" fill="#000" />
<path d="M332.26 256.85L327.01 266.25L337.51 266.25Z" fill="#000" />
<path d="M330.82 266.17L325.57 275.57L336.07 275.57Z" fill="#000" />
<path d="M329.31 275.49L324.06 284.89L334.56 284.89Z" fill="#000" />
<path d="M327.71 284.81L322.46 294.21L332.96 294.21Z" fill="#000" />
<path d="M325.99 294.13L320.74 303.53L331.24 303.53Z" fill="#000" />
<path d="M324.13 303.45L318.88 312.85L329.38 312.85Z" fill="#000" />
<path d="M322.10 312.77L316.85 322.17L327.35 322.17Z" fill="#000" />
<path d="M319.84 322.09L314.59 331.49L325.09 331.49Z" fill="#000" />
<path d="M317.30 331.41L312.05 340.81L322.55 340.81Z" fill="#000" />
<path d="M314.40 340.73L309.15 350.13L319.65 350.13Z" fill="#000" />
<path d="M311.03 350.05L305.78 359.45L316.28 359.45Z" fill="#000" />
<path d="M311.03 354.95L312.78 350.29L314.40 345.63L315.90 340.97L317.30 336.31L318.61 331.65L319.84 326.99L321.00 322.33L322.10 317.67L323.14 313.01L324.13 308.35L325.08 303.69L325.99 299.03L326.87 294.37L327.71 289.71L328.52 285.05L329.31 280.39L330.08 275.73L330.82 271.07L331.55 266.41L332.26 261.75L332.96 257.09L333.64 252.43L334.32 247.77L334.98 243.11L335.64 238.45L336.29 233.79L336.93 229.13L337.57 224.47L338.21 219.81L338.85 215.15L339.49 210.49L340.13 205.83L340.77 201.17L341.41 196.51L342.06 191.85L342.72 187.19L343.38 182.53L344.06 177.87L344.74 173.21L345.44 168.55L346.15 163.89L346.88 159.23L347.62 154.57L348.39 149.91L349.18 145.25L349.99 140.59L350.83 135.93L351.71 131.27L352.62 126.61L353.57 121.95L354.56 117.29L355.60 112.63L356.70 107.97L357.86 103.31L359.09 98.65L360.40 93.99L361.80 89.33L363.30 84.67L364.92 80.01L366.67 75.35" stroke="#00ffff" stroke-width="2.6" fill="none" stroke-linecap="square"/>
</g>
<rect x="156.6" y="71.0" width="364.5" height="288.5" fill="none" stroke="#262626" stroke-width="3.7"/>
<path d="M139.4 121.95H155.4" stroke="#262626" stroke-width="2.6"/>
<text transform="translate(130.10 132.25) scale(1 1.045)" font-size="28.70" stroke-width="0.37" text-anchor="end" >0.2</text>
<path d="M139.4 215.15H155.4" stroke="#262626" stroke-width="2.6"/>
<text transform="translate(130.10 225.45) scale(1 1.045)" font-size="28.70" stroke-width="0.37" text-anchor="end" >0.0</text>
<path d="M139.4 308.35H155.4" stroke="#262626" stroke-width="2.6"/>
<text transform="translate(130.10 318.65) scale(1 1.045)" font-size="28.70" stroke-width="0.37" text-anchor="end" >−0.2</text>
<path d="M156.60 361V376.6" stroke="#262626" stroke-width="2.6"/>
<text transform="translate(156.60 407.40) scale(1 1.045)" font-size="28.70" stroke-width="0.37" text-anchor="middle" >0.4</text>
<path d="M338.85 361V376.6" stroke="#262626" stroke-width="2.6"/>
<text transform="translate(338.85 407.40) scale(1 1.045)" font-size="28.70" stroke-width="0.37" text-anchor="middle" >0.5</text>
<path d="M521.10 361V376.6" stroke="#262626" stroke-width="2.6"/>
<text transform="translate(521.10 407.40) scale(1 1.045)" font-size="28.70" stroke-width="0.37" text-anchor="middle" >0.6</text>
<g transform="translate(338.60 445.00)"><text x="-50.97" y="0.00" font-size="28.80" stroke-width="0.37" font-family="DejaVu Sans, sans-serif">Φ</text><text x="-28.31" y="4.73" font-size="20.16" stroke-width="0.26" font-family="DejaVu Sans, sans-serif" font-style="italic">z</text><text x="-16.94" y="0.00" font-size="28.80" stroke-width="0.37" font-family="DejaVu Sans, sans-serif"> (</text><text x="3.46" y="0.00" font-size="28.80" stroke-width="0.37" font-family="DejaVu Sans, sans-serif">Φ</text><text x="26.12" y="4.73" font-size="20.16" stroke-width="0.26" font-family="DejaVu Sans, sans-serif">0</text><text x="39.74" y="0.00" font-size="28.80" stroke-width="0.37" font-family="DejaVu Sans, sans-serif">)</text></g>
<g transform="translate(51.50 216.00) rotate(-90)"><text x="-51.65" y="0.00" font-size="28.80" stroke-width="0.37" font-family="DejaVu Sans, sans-serif">Φ</text><text x="-28.98" y="4.73" font-size="20.16" stroke-width="0.26" font-family="DejaVu Sans, sans-serif" font-style="italic">x</text><text x="-16.26" y="0.00" font-size="28.80" stroke-width="0.37" font-family="DejaVu Sans, sans-serif"> (</text><text x="4.13" y="0.00" font-size="28.80" stroke-width="0.37" font-family="DejaVu Sans, sans-serif">Φ</text><text x="26.80" y="4.73" font-size="20.16" stroke-width="0.26" font-family="DejaVu Sans, sans-serif">0</text><text x="40.41" y="0.00" font-size="28.80" stroke-width="0.37" font-family="DejaVu Sans, sans-serif">)</text></g>
<rect x="544.0" y="71.0" width="14.4" height="288.5" fill="url(#cb)" stroke="#262626" stroke-width="3.7"/>
<path d="M560 95.50H575.6" stroke="#262626" stroke-width="2.6"/>
<text transform="translate(585.30 101.40) scale(1 1.045)" font-size="17.30" stroke-width="0.22" text-anchor="start" >0.12</text>
<path d="M560 143.60H575.6" stroke="#262626" stroke-width="2.6"/>
<text transform="translate(585.30 149.50) scale(1 1.045)" font-size="17.30" stroke-width="0.22" text-anchor="start" >0.10</text>
<path d="M560 191.90H575.6" stroke="#262626" stroke-width="2.6"/>
<text transform="translate(585.30 197.80) scale(1 1.045)" font-size="17.30" stroke-width="0.22" text-anchor="start" >0.08</text>
<path d="M560 240.10H575.6" stroke="#262626" stroke-width="2.6"/>
<text transform="translate(585.30 246.00) scale(1 1.045)" font-size="17.30" stroke-width="0.22" text-anchor="start" >0.06</text>
<path d="M560 288.20H575.6" stroke="#262626" stroke-width="2.6"/>
<text transform="translate(585.30 294.10) scale(1 1.045)" font-size="17.30" stroke-width="0.22" text-anchor="start" >0.04</text>
<path d="M560 336.50H575.6" stroke="#262626" stroke-width="2.6"/>
<text transform="translate(585.30 342.40) scale(1 1.045)" font-size="17.30" stroke-width="0.22" text-anchor="start" >0.02</text>
<g transform="translate(639.00 216.40) rotate(90)"><text x="-97.69" y="0.00" font-size="28.80" stroke-width="0.37" font-family="DejaVu Sans, sans-serif">|S</text><text x="-69.70" y="4.73" font-size="20.16" stroke-width="0.26" font-family="DejaVu Sans, sans-serif">21</text><text x="-43.26" y="0.00" font-size="28.80" stroke-width="0.37" font-family="DejaVu Sans, sans-serif">|</text><text transform="translate(-33.56 0.00) scale(1 1.045)" font-size="28.80" stroke-width="0.37" > (arb. unit)</text></g>
<text transform="translate(0 504) scale(1 1.045)" font-size="32.6" stroke-width="0.42"><tspan x="-3.3" y="0.7" font-size="33.5">(</tspan><tspan x="9.3" y="0">b</tspan><tspan x="29.9" y="0.7" font-size="33.5">)</tspan></text>
<rect x="77.1" y="488.5" width="606.6" height="39.1" rx="4.8" ry="4.8" fill="#fff" stroke="#cdcdcd" stroke-width="3.3"/>
<path d="M86.0 505.9H131.4" stroke="#1f77b4" stroke-width="4.8" stroke-linecap="round"/>
<text transform="translate(150.00 513.80) scale(1 1.045)" font-size="22.70" stroke-width="0.30" text-anchor="start" >analytical</text>
<circle cx="312.8" cy="508" r="6.3" fill="#ffa500"/>
<text transform="translate(354.00 513.80) scale(1 1.045)" font-size="22.70" stroke-width="0.30" text-anchor="start" >numerical</text>
<path d="M520.90 503.50L516.40 512.50L525.40 512.50Z" fill="#000" stroke="#000" stroke-width="3" stroke-linejoin="round"/>
<text transform="translate(561.80 513.80) scale(1 1.045)" font-size="22.70" stroke-width="0.30" text-anchor="start" >experiment</text>
<g clip-path="url(#cbx)">
<circle cx="409.72" cy="805.36" r="6.3" fill="#ffa500"/>
<circle cx="414.79" cy="803.80" r="6.3" fill="#ffa500"/>
<circle cx="419.85" cy="802.18" r="6.3" fill="#ffa500"/>
<circle cx="424.92" cy="800.50" r="6.3" fill="#ffa500"/>
<circle cx="429.98" cy="798.77" r="6.3" fill="#ffa500"/>
<circle cx="435.04" cy="796.97" r="6.3" fill="#ffa500"/>
<circle cx="440.11" cy="795.11" r="6.3" fill="#ffa500"/>
<circle cx="445.17" cy="793.17" r="6.3" fill="#ffa500"/>
<circle cx="450.24" cy="791.15" r="6.3" fill="#ffa500"/>
<circle cx="455.30" cy="789.05" r="6.3" fill="#ffa500"/>
<circle cx="460.37" cy="786.86" r="6.3" fill="#ffa500"/>
<circle cx="465.43" cy="784.57" r="6.3" fill="#ffa500"/>
<circle cx="470.50" cy="782.18" r="6.3" fill="#ffa500"/>
<circle cx="475.56" cy="779.67" r="6.3" fill="#ffa500"/>
<circle cx="480.62" cy="777.04" r="6.3" fill="#ffa500"/>
<circle cx="485.69" cy="774.27" r="6.3" fill="#ffa500"/>
<circle cx="490.75" cy="771.35" r="6.3" fill="#ffa500"/>
<circle cx="495.82" cy="768.28" r="6.3" fill="#ffa500"/>
<circle cx="500.88" cy="765.03" r="6.3" fill="#ffa500"/>
<circle cx="505.95" cy="761.59" r="6.3" fill="#ffa500"/>
<circle cx="511.01" cy="757.94" r="6.3" fill="#ffa500"/>
<circle cx="516.08" cy="754.06" r="6.3" fill="#ffa500"/>
<circle cx="521.14" cy="749.92" r="6.3" fill="#ffa500"/>
<circle cx="526.20" cy="745.49" r="6.3" fill="#ffa500"/>
<circle cx="531.27" cy="740.74" r="6.3" fill="#ffa500"/>
<circle cx="536.33" cy="735.64" r="6.3" fill="#ffa500"/>
<circle cx="541.40" cy="730.13" r="6.3" fill="#ffa500"/>
<circle cx="546.46" cy="724.18" r="6.3" fill="#ffa500"/>
<circle cx="551.53" cy="717.71" r="6.3" fill="#ffa500"/>
<circle cx="556.59" cy="710.65" r="6.3" fill="#ffa500"/>
<circle cx="561.66" cy="702.92" r="6.3" fill="#ffa500"/>
<circle cx="566.72" cy="694.42" r="6.3" fill="#ffa500"/>
<circle cx="571.78" cy="685.03" r="6.3" fill="#ffa500"/>
<circle cx="576.85" cy="674.58" r="6.3" fill="#ffa500"/>
<circle cx="581.91" cy="662.89" r="6.3" fill="#ffa500"/>
<circle cx="586.98" cy="649.72" r="6.3" fill="#ffa500"/>
<circle cx="592.04" cy="634.78" r="6.3" fill="#ffa500"/>
<circle cx="597.11" cy="617.69" r="6.3" fill="#ffa500"/>
<circle cx="602.17" cy="597.94" r="6.3" fill="#ffa500"/>
<circle cx="607.24" cy="574.87" r="6.3" fill="#ffa500"/>
<circle cx="612.30" cy="547.61" r="6.3" fill="#ffa500"/>
<path d="M156.50 849.60L152.00 858.60L161.00 858.60Z" fill="#000" stroke="#000" stroke-width="3" stroke-linejoin="round"/>
<path d="M176.76 845.30L172.26 854.30L181.26 854.30Z" fill="#000" stroke="#000" stroke-width="3" stroke-linejoin="round"/>
<path d="M197.02 843.25L192.52 852.25L201.52 852.25Z" fill="#000" stroke="#000" stroke-width="3" stroke-linejoin="round"/>
<path d="M217.27 841.06L212.77 850.06L221.77 850.06Z" fill="#000" stroke="#000" stroke-width="3" stroke-linejoin="round"/>
<path d="M237.53 836.30L233.03 845.30L242.03 845.30Z" fill="#000" stroke="#000" stroke-width="3" stroke-linejoin="round"/>
<path d="M257.79 836.30L253.29 845.30L262.29 845.30Z" fill="#000" stroke="#000" stroke-width="3" stroke-linejoin="round"/>
<path d="M278.05 829.80L273.55 838.80L282.55 838.80Z" fill="#000" stroke="#000" stroke-width="3" stroke-linejoin="round"/>
<path d="M298.30 825.40L293.80 834.40L302.80 834.40Z" fill="#000" stroke="#000" stroke-width="3" stroke-linejoin="round"/>
<path d="M318.56 823.33L314.06 832.33L323.06 832.33Z" fill="#000" stroke="#000" stroke-width="3" stroke-linejoin="round"/>
<path d="M338.82 818.70L334.32 827.70L343.32 827.70Z" fill="#000" stroke="#000" stroke-width="3" stroke-linejoin="round"/>
<path d="M359.08 814.40L354.58 823.40L363.58 823.40Z" fill="#000" stroke="#000" stroke-width="3" stroke-linejoin="round"/>
<path d="M379.34 810.17L374.84 819.17L383.84 819.17Z" fill="#000" stroke="#000" stroke-width="3" stroke-linejoin="round"/>
<path d="M399.59 803.40L395.09 812.40L404.09 812.40Z" fill="#000" stroke="#000" stroke-width="3" stroke-linejoin="round"/>
<path d="M419.85 796.70L415.35 805.70L424.35 805.70Z" fill="#000" stroke="#000" stroke-width="3" stroke-linejoin="round"/>
<path d="M440.11 790.10L435.61 799.10L444.61 799.10Z" fill="#000" stroke="#000" stroke-width="3" stroke-linejoin="round"/>
<path d="M460.37 781.30L455.87 790.30L464.87 790.30Z" fill="#000" stroke="#000" stroke-width="3" stroke-linejoin="round"/>
<path d="M156.50 854.00L159.03 853.62L161.56 853.25L164.10 852.87L166.63 852.49L169.16 852.11L171.69 851.74L174.23 851.36L176.76 850.98L179.29 850.60L181.82 850.22L184.35 849.84L186.89 849.46L189.42 849.08L191.95 848.70L194.48 848.32L197.02 847.93L199.55 847.55L202.08 847.17L204.61 846.78L207.14 846.39L209.68 846.01L212.21 845.62L214.74 845.23L217.27 844.84L219.81 844.45L222.34 844.06L224.87 843.66L227.40 843.27L229.93 842.87L232.47 842.47L235.00 842.07L237.53 841.67L240.06 841.27L242.60 840.86L245.13 840.46L247.66 840.05L250.19 839.64L252.72 839.23L255.26 838.81L257.79 838.40L260.32 837.98L262.85 837.56L265.39 837.14L267.92 836.71L270.45 836.29L272.98 835.86L275.51 835.43L278.05 834.99L280.58 834.55L283.11 834.11L285.64 833.67L288.18 833.22L290.71 832.78L293.24 832.32L295.77 831.87L298.30 831.41L300.84 830.95L303.37 830.48L305.90 830.01L308.43 829.54L310.97 829.06L313.50 828.58L316.03 828.10L318.56 827.61L321.09 827.12L323.63 826.62L326.16 826.12L328.69 825.61L331.22 825.10L333.76 824.59L336.29 824.07L338.82 823.54L341.35 823.01L343.88 822.48L346.42 821.93L348.95 821.39L351.48 820.83L354.01 820.27L356.55 819.71L359.08 819.14L361.61 818.56L364.14 817.97L366.67 817.38L369.21 816.78L371.74 816.18L374.27 815.56L376.80 814.94L379.34 814.31L381.87 813.68L384.40 813.03L386.93 812.38L389.46 811.71L392.00 811.04L394.53 810.36L397.06 809.67L399.59 808.96L402.13 808.25L404.66 807.53L407.19 806.80L409.72 806.05L412.25 805.29L414.79 804.53L417.32 803.74L419.85 802.95L422.38 802.14L424.92 801.32L427.45 800.49L429.98 799.64L432.51 798.77L435.04 797.89L437.58 796.99L440.11 796.08L442.64 795.15L445.17 794.20L447.71 793.23L450.24 792.25L452.77 791.24L455.30 790.21L457.83 789.17L460.37 788.10L462.90 787.00L465.43 785.88L467.96 784.74L470.50 783.57L473.03 782.38L475.56 781.15L478.09 779.90L480.62 778.62L483.16 777.30L485.69 775.96L488.22 774.57L490.75 773.16L493.29 771.70L495.82 770.21L498.35 768.67L500.88 767.09L503.41 765.47L505.95 763.80L508.48 762.08L511.01 760.31L513.54 758.48L516.08 756.60L518.61 754.66L521.14 752.66L523.67 750.58L526.20 748.44L528.74 746.23L531.27 743.94L533.80 741.56L536.33 739.10L538.87 736.55L541.40 733.89L543.93 731.14L546.46 728.27L548.99 725.29L551.53 722.18L554.06 718.94L556.59 715.56L559.12 712.03L561.66 708.33L564.19 704.46L566.72 700.40L569.25 696.14L571.78 691.67L574.32 686.96L576.85 681.99L579.38 676.75L581.91 671.22L584.45 665.36L586.98 659.14L589.51 652.55L592.04 645.52L594.57 638.04L597.11 630.04L599.64 621.49L602.17 612.30L604.70 602.43L607.24 591.79L609.77 580.29L612.30 567.82" stroke="#1f77b4" stroke-width="4.8" fill="none" stroke-linejoin="round"/>
</g>
<rect x="156.5" y="546.1" width="455.8" height="360.7" fill="none" stroke="#262626" stroke-width="3.7"/>
<path d="M139.4 854.10H155.4" stroke="#262626" stroke-width="2.6"/>
<text transform="translate(130.10 864.40) scale(1 1.045)" font-size="28.70" stroke-width="0.37" text-anchor="end" >0.50</text>
<path d="M139.4 766.20H155.4" stroke="#262626" stroke-width="2.6"/>
<text transform="translate(130.10 776.50) scale(1 1.045)" font-size="28.70" stroke-width="0.37" text-anchor="end" >0.52</text>
<path d="M139.4 678.30H155.4" stroke="#262626" stroke-width="2.6"/>
<text transform="translate(130.10 688.60) scale(1 1.045)" font-size="28.70" stroke-width="0.37" text-anchor="end" >0.54</text>
<path d="M139.4 590.40H155.4" stroke="#262626" stroke-width="2.6"/>
<text transform="translate(130.10 600.70) scale(1 1.045)" font-size="28.70" stroke-width="0.37" text-anchor="end" >0.56</text>
<path d="M156.50 908.5V924.2" stroke="#262626" stroke-width="2.6"/>
<text transform="translate(156.50 955.00) scale(1 1.045)" font-size="28.70" stroke-width="0.37" text-anchor="middle" >0.0</text>
<path d="M257.79 908.5V924.2" stroke="#262626" stroke-width="2.6"/>
<text transform="translate(257.79 955.00) scale(1 1.045)" font-size="28.70" stroke-width="0.37" text-anchor="middle" >0.1</text>
<path d="M359.08 908.5V924.2" stroke="#262626" stroke-width="2.6"/>
<text transform="translate(359.08 955.00) scale(1 1.045)" font-size="28.70" stroke-width="0.37" text-anchor="middle" >0.2</text>
<path d="M460.37 908.5V924.2" stroke="#262626" stroke-width="2.6"/>
<text transform="translate(460.37 955.00) scale(1 1.045)" font-size="28.70" stroke-width="0.37" text-anchor="middle" >0.3</text>
<path d="M561.66 908.5V924.2" stroke="#262626" stroke-width="2.6"/>
<text transform="translate(561.66 955.00) scale(1 1.045)" font-size="28.70" stroke-width="0.37" text-anchor="middle" >0.4</text>
<g transform="translate(383.70 992.00)"><text x="-51.65" y="0.00" font-size="28.80" stroke-width="0.37" font-family="DejaVu Sans, sans-serif">Φ</text><text x="-28.98" y="4.73" font-size="20.16" stroke-width="0.26" font-family="DejaVu Sans, sans-serif" font-style="italic">x</text><text x="-16.26" y="0.00" font-size="28.80" stroke-width="0.37" font-family="DejaVu Sans, sans-serif"> (</text><text x="4.13" y="0.00" font-size="28.80" stroke-width="0.37" font-family="DejaVu Sans, sans-serif">Φ</text><text x="26.80" y="4.73" font-size="20.16" stroke-width="0.26" font-family="DejaVu Sans, sans-serif">0</text><text x="40.41" y="0.00" font-size="28.80" stroke-width="0.37" font-family="DejaVu Sans, sans-serif">)</text></g>
<g transform="translate(53.50 727.30) rotate(-90)"><text x="-66.72" y="0.00" font-size="28.80" stroke-width="0.37" font-family="DejaVu Sans, sans-serif">Φ</text><text x="-44.05" y="7.88" font-size="20.16" stroke-width="0.26" font-family="DejaVu Sans, sans-serif" font-style="italic">z</text><text x="-44.05" y="-11.03" font-size="20.16" stroke-width="0.26" font-family="DejaVu Sans, sans-serif">sym</text><text x="-1.19" y="0.00" font-size="28.80" stroke-width="0.37" font-family="DejaVu Sans, sans-serif"> (</text><text x="19.20" y="0.00" font-size="28.80" stroke-width="0.37" font-family="DejaVu Sans, sans-serif">Φ</text><text x="41.87" y="4.73" font-size="20.16" stroke-width="0.26" font-family="DejaVu Sans, sans-serif">0</text><text x="55.48" y="0.00" font-size="28.80" stroke-width="0.37" font-family="DejaVu Sans, sans-serif">)</text></g>
<rect x="249.0" y="588.9" width="208.9" height="138.5" fill="#fff"/>
<g clip-path="url(#ci)">
<circle cx="259.30" cy="720.98" r="4.9" fill="#1f77b4"/>
<circle cx="264.00" cy="720.71" r="4.9" fill="#1f77b4"/>
<circle cx="268.70" cy="720.44" r="4.9" fill="#1f77b4"/>
<circle cx="273.40" cy="720.14" r="4.9" fill="#1f77b4"/>
<circle cx="278.10" cy="719.83" r="4.9" fill="#1f77b4"/>
<circle cx="282.80" cy="719.49" r="4.9" fill="#1f77b4"/>
<circle cx="287.50" cy="719.14" r="4.9" fill="#1f77b4"/>
<circle cx="292.20" cy="718.76" r="4.9" fill="#1f77b4"/>
<circle cx="296.90" cy="718.35" r="4.9" fill="#1f77b4"/>
<circle cx="301.60" cy="717.92" r="4.9" fill="#1f77b4"/>
<circle cx="306.30" cy="717.45" r="4.9" fill="#1f77b4"/>
<circle cx="311.00" cy="716.95" r="4.9" fill="#1f77b4"/>
<circle cx="315.70" cy="716.42" r="4.9" fill="#1f77b4"/>
<circle cx="320.40" cy="715.84" r="4.9" fill="#1f77b4"/>
<circle cx="325.10" cy="715.21" r="4.9" fill="#1f77b4"/>
<circle cx="329.80" cy="714.54" r="4.9" fill="#1f77b4"/>
<circle cx="334.50" cy="713.80" r="4.9" fill="#1f77b4"/>
<circle cx="339.20" cy="713.01" r="4.9" fill="#1f77b4"/>
<circle cx="343.90" cy="712.14" r="4.9" fill="#1f77b4"/>
<circle cx="348.60" cy="711.20" r="4.9" fill="#1f77b4"/>
<circle cx="353.30" cy="710.16" r="4.9" fill="#1f77b4"/>
<circle cx="358.00" cy="709.02" r="4.9" fill="#1f77b4"/>
<circle cx="362.70" cy="707.76" r="4.9" fill="#1f77b4"/>
<circle cx="367.40" cy="706.37" r="4.9" fill="#1f77b4"/>
<circle cx="372.10" cy="704.83" r="4.9" fill="#1f77b4"/>
<circle cx="376.80" cy="703.11" r="4.9" fill="#1f77b4"/>
<circle cx="381.50" cy="701.19" r="4.9" fill="#1f77b4"/>
<circle cx="386.20" cy="699.02" r="4.9" fill="#1f77b4"/>
<circle cx="390.90" cy="696.57" r="4.9" fill="#1f77b4"/>
<circle cx="395.60" cy="693.79" r="4.9" fill="#1f77b4"/>
<circle cx="400.30" cy="690.60" r="4.9" fill="#1f77b4"/>
<circle cx="405.00" cy="686.93" r="4.9" fill="#1f77b4"/>
<circle cx="409.70" cy="682.67" r="4.9" fill="#1f77b4"/>
<circle cx="414.40" cy="677.68" r="4.9" fill="#1f77b4"/>
<circle cx="419.10" cy="671.79" r="4.9" fill="#1f77b4"/>
<circle cx="423.80" cy="664.76" r="4.9" fill="#1f77b4"/>
<circle cx="428.50" cy="656.27" r="4.9" fill="#1f77b4"/>
<circle cx="433.20" cy="645.87" r="4.9" fill="#1f77b4"/>
<circle cx="437.90" cy="632.93" r="4.9" fill="#1f77b4"/>
<circle cx="442.60" cy="616.54" r="4.9" fill="#1f77b4"/>
<circle cx="447.30" cy="595.32" r="4.9" fill="#1f77b4"/>
<rect x="276.0" y="688.6" width="126.0" height="33.2" fill="#808080" fill-opacity="0.5"/>
</g>
<rect x="249.0" y="588.9" width="208.9" height="138.5" fill="none" stroke="#262626" stroke-width="3.7"/>
<path d="M250.3 724.70H257.4" stroke="#262626" stroke-width="1.7"/>
<text transform="translate(238.50 730.90) scale(1 1.045)" font-size="17.30" stroke-width="0.22" text-anchor="end" >0</text>
<path d="M250.3 668.60H257.4" stroke="#262626" stroke-width="1.7"/>
<text transform="translate(238.50 674.80) scale(1 1.045)" font-size="17.30" stroke-width="0.22" text-anchor="end" >2</text>
<path d="M250.3 612.50H257.4" stroke="#262626" stroke-width="1.7"/>
<text transform="translate(238.50 618.70) scale(1 1.045)" font-size="17.30" stroke-width="0.22" text-anchor="end" >4</text>
<path d="M306.30 726V718.9" stroke="#262626" stroke-width="1.7"/>
<text transform="translate(306.30 751.00) scale(1 1.045)" font-size="17.30" stroke-width="0.22" text-anchor="middle" >0.3</text>
<path d="M400.30 726V718.9" stroke="#262626" stroke-width="1.7"/>
<text transform="translate(400.30 751.00) scale(1 1.045)" font-size="17.30" stroke-width="0.22" text-anchor="middle" >0.4</text>
<g transform="translate(352.00 780.00)"><text x="-36.76" y="0.00" font-size="20.50" stroke-width="0.27" font-family="DejaVu Sans, sans-serif">Φ</text><text x="-20.63" y="3.36" font-size="14.35" stroke-width="0.19" font-family="DejaVu Sans, sans-serif" font-style="italic">x</text><text x="-11.57" y="0.00" font-size="20.50" stroke-width="0.27" font-family="DejaVu Sans, sans-serif"> (</text><text x="2.94" y="0.00" font-size="20.50" stroke-width="0.27" font-family="DejaVu Sans, sans-serif">Φ</text><text x="19.08" y="3.36" font-size="14.35" stroke-width="0.19" font-family="DejaVu Sans, sans-serif">0</text><text x="28.77" y="0.00" font-size="20.50" stroke-width="0.27" font-family="DejaVu Sans, sans-serif">)</text></g>
<g transform="translate(210.00 659.50) rotate(-90)"><text transform="translate(-48.44 0.00) scale(1 1.045)" font-size="20.20" stroke-width="0.26" >Diff. (m</text><text x="16.27" y="0.00" font-size="20.20" stroke-width="0.26" font-family="DejaVu Sans, sans-serif">Φ</text><text x="32.17" y="3.31" font-size="14.14" stroke-width="0.18" font-family="DejaVu Sans, sans-serif">0</text><text transform="translate(41.72 0.00) scale(1 1.045)" font-size="20.20" stroke-width="0.26" >)</text></g>
</svg>
</body></html>
